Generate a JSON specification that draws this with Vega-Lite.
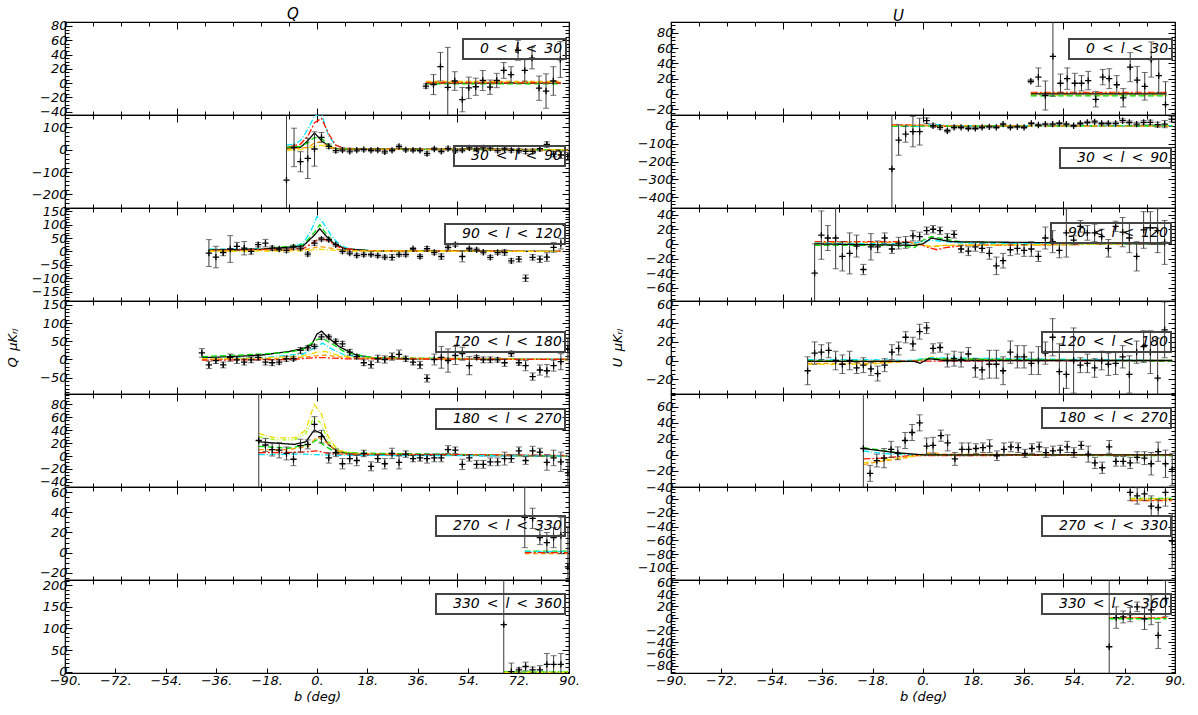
{
"$schema":"https://vega.github.io/schema/vega-lite/v6.json",
"padding":{"left":5,"top":6,"right":5,"bottom":3},
"background":"#ffffff",
"config":{
 "view":{"stroke":"#000","strokeWidth":1.2},
 "axis":{"domain":false,"grid":false,"tickColor":"#000","tickWidth":1,"labelColor":"#000","labelFont":"DejaVu Sans","labelFontStyle":"italic","labelFontSize":13,"titleFont":"DejaVu Sans","titleFontStyle":"italic","titleFontWeight":"normal","titleFontSize":13,"titleColor":"#000","labelFlush":false,"labelOverlap":false,"labelBound":false,"labelPadding":5},
 "legend":{"orient":"none","strokeColor":"#444","strokeWidth":2,"padding":3,"symbolSize":0,"symbolOpacity":0,"symbolStrokeWidth":0,"labelOffset":0,"labelFont":"DejaVu Sans","labelFontStyle":"italic","labelFontSize":14,"labelColor":"#000"},
 "title":{"font":"DejaVu Sans","fontStyle":"italic","fontWeight":"normal","fontSize":15,"color":"#000","anchor":"middle","offset":-6}
},
"datasets":{
"pts":[
{"c":"Q","r":1,"b":38.9,"v":-4,"e":3},{"c":"Q","r":1,"b":41.6,"v":-2,"e":14},{"c":"Q","r":1,"b":44.1,"v":23,"e":20},{"c":"Q","r":1,"b":46.7,"v":-6,"e":56},{"c":"Q","r":1,"b":49.2,"v":3,"e":13},{"c":"Q","r":1,"b":51.9,"v":-23,"e":17},{"c":"Q","r":1,"b":54.2,"v":-6.5,"e":15},{"c":"Q","r":1,"b":56.7,"v":-5,"e":12},{"c":"Q","r":1,"b":59.2,"v":3.7,"e":14},{"c":"Q","r":1,"b":61.8,"v":-5.6,"e":10},{"c":"Q","r":1,"b":64.2,"v":3.7,"e":10},{"c":"Q","r":1,"b":66.7,"v":17.8,"e":11},{"c":"Q","r":1,"b":69.3,"v":12,"e":11},{"c":"Q","r":1,"b":71.8,"v":46,"e":14},{"c":"Q","r":1,"b":74.2,"v":17.8,"e":15},{"c":"Q","r":1,"b":76.8,"v":35,"e":15},{"c":"Q","r":1,"b":79.3,"v":-7,"e":17},{"c":"Q","r":1,"b":81.8,"v":-11,"e":24},{"c":"Q","r":1,"b":84.4,"v":3,"e":20},{"c":"Q","r":1,"b":86.9,"v":33,"e":25},
{"c":"Q","r":2,"b":-10.9,"v":-136,"e":1000},{"c":"Q","r":2,"b":-8.2,"v":10,"e":86},{"c":"Q","r":2,"b":-5.9,"v":-54,"e":45},{"c":"Q","r":2,"b":-3.3,"v":-39,"e":90},{"c":"Q","r":2,"b":-0.9,"v":3,"e":77},{"c":"Q","r":2,"b":1.6,"v":55,"e":22},{"c":"Q","r":2,"b":4.2,"v":15,"e":10},{"c":"Q","r":2,"b":6.7,"v":-4,"e":8},{"c":"Q","r":2,"b":9.1,"v":-2,"e":6},{"c":"Q","r":2,"b":11.7,"v":-7,"e":7},{"c":"Q","r":2,"b":14.2,"v":-2,"e":6},{"c":"Q","r":2,"b":16.7,"v":0,"e":6},{"c":"Q","r":2,"b":19.3,"v":-3,"e":6},{"c":"Q","r":2,"b":21.7,"v":-2,"e":6},{"c":"Q","r":2,"b":24.2,"v":-10,"e":7},{"c":"Q","r":2,"b":26.8,"v":-3,"e":6},{"c":"Q","r":2,"b":29.3,"v":14,"e":7},{"c":"Q","r":2,"b":31.7,"v":-1,"e":6},{"c":"Q","r":2,"b":34.3,"v":-2,"e":6},{"c":"Q","r":2,"b":36.8,"v":-3,"e":6},{"c":"Q","r":2,"b":39.3,"v":-18,"e":8},{"c":"Q","r":2,"b":41.9,"v":3,"e":6},{"c":"Q","r":2,"b":44.4,"v":-8,"e":6},{"c":"Q","r":2,"b":46.8,"v":5,"e":7},{"c":"Q","r":2,"b":49.4,"v":-5,"e":7},{"c":"Q","r":2,"b":51.9,"v":-2,"e":7},{"c":"Q","r":2,"b":54.4,"v":8,"e":7},{"c":"Q","r":2,"b":57.0,"v":3,"e":8},{"c":"Q","r":2,"b":59.4,"v":8,"e":8},{"c":"Q","r":2,"b":61.9,"v":7,"e":8},{"c":"Q","r":2,"b":64.5,"v":-4,"e":7},{"c":"Q","r":2,"b":67.0,"v":3,"e":8},{"c":"Q","r":2,"b":69.4,"v":-3,"e":8},{"c":"Q","r":2,"b":72.1,"v":-5,"e":9},{"c":"Q","r":2,"b":74.5,"v":-8,"e":10},{"c":"Q","r":2,"b":77.0,"v":-8,"e":10},{"c":"Q","r":2,"b":79.6,"v":4,"e":10},{"c":"Q","r":2,"b":82.1,"v":23,"e":12},{"c":"Q","r":2,"b":84.5,"v":-20,"e":12},{"c":"Q","r":2,"b":87.1,"v":-24,"e":15},{"c":"Q","r":2,"b":89.6,"v":-30,"e":18},
{"c":"Q","r":3,"b":-38.6,"v":-6,"e":50},{"c":"Q","r":3,"b":-36.1,"v":-21,"e":40},{"c":"Q","r":3,"b":-33.5,"v":-4,"e":12},{"c":"Q","r":3,"b":-31.0,"v":9,"e":50},{"c":"Q","r":3,"b":-28.6,"v":19,"e":15},{"c":"Q","r":3,"b":-26.0,"v":12,"e":25},{"c":"Q","r":3,"b":-23.5,"v":0,"e":10},{"c":"Q","r":3,"b":-21.0,"v":25,"e":8},{"c":"Q","r":3,"b":-18.4,"v":31,"e":14},{"c":"Q","r":3,"b":-16.0,"v":12,"e":8},{"c":"Q","r":3,"b":-13.5,"v":9,"e":6},{"c":"Q","r":3,"b":-10.9,"v":4,"e":7},{"c":"Q","r":3,"b":-8.4,"v":16,"e":7},{"c":"Q","r":3,"b":-5.9,"v":12,"e":6},{"c":"Q","r":3,"b":-3.3,"v":-10,"e":7},{"c":"Q","r":3,"b":-0.9,"v":31,"e":8},{"c":"Q","r":3,"b":1.6,"v":46,"e":6},{"c":"Q","r":3,"b":4.2,"v":44,"e":6},{"c":"Q","r":3,"b":6.7,"v":25,"e":6},{"c":"Q","r":3,"b":9.1,"v":0,"e":6},{"c":"Q","r":3,"b":11.7,"v":-6,"e":6},{"c":"Q","r":3,"b":14.2,"v":-15,"e":6},{"c":"Q","r":3,"b":16.7,"v":-12,"e":6},{"c":"Q","r":3,"b":19.3,"v":-12,"e":5},{"c":"Q","r":3,"b":21.7,"v":-16,"e":6},{"c":"Q","r":3,"b":24.2,"v":-21,"e":7},{"c":"Q","r":3,"b":26.8,"v":-22,"e":10},{"c":"Q","r":3,"b":29.3,"v":-12,"e":6},{"c":"Q","r":3,"b":31.7,"v":-12,"e":6},{"c":"Q","r":3,"b":34.3,"v":10,"e":4},{"c":"Q","r":3,"b":36.8,"v":-19,"e":7},{"c":"Q","r":3,"b":39.3,"v":10,"e":8},{"c":"Q","r":3,"b":41.9,"v":-4,"e":8},{"c":"Q","r":3,"b":44.4,"v":-19,"e":10},{"c":"Q","r":3,"b":46.8,"v":15,"e":6},{"c":"Q","r":3,"b":49.4,"v":25,"e":6},{"c":"Q","r":3,"b":51.9,"v":-19,"e":20},{"c":"Q","r":3,"b":54.4,"v":10,"e":5},{"c":"Q","r":3,"b":57.0,"v":6,"e":6},{"c":"Q","r":3,"b":59.4,"v":-3,"e":6},{"c":"Q","r":3,"b":61.9,"v":-22,"e":7},{"c":"Q","r":3,"b":64.5,"v":-4,"e":7},{"c":"Q","r":3,"b":67.0,"v":-4,"e":10},{"c":"Q","r":3,"b":69.4,"v":-35,"e":8},{"c":"Q","r":3,"b":72.1,"v":-29,"e":10},{"c":"Q","r":3,"b":74.5,"v":-100,"e":12},{"c":"Q","r":3,"b":77.0,"v":-22,"e":10},{"c":"Q","r":3,"b":79.6,"v":-29,"e":12},{"c":"Q","r":3,"b":82.1,"v":-21,"e":16},{"c":"Q","r":3,"b":84.5,"v":15,"e":18},{"c":"Q","r":3,"b":87.1,"v":29,"e":20},
{"c":"Q","r":4,"b":-41.1,"v":18,"e":12},{"c":"Q","r":4,"b":-38.6,"v":-15,"e":10},{"c":"Q","r":4,"b":-36.1,"v":-3,"e":8},{"c":"Q","r":4,"b":-33.5,"v":-15,"e":8},{"c":"Q","r":4,"b":-31.0,"v":5,"e":10},{"c":"Q","r":4,"b":-28.6,"v":-1,"e":10},{"c":"Q","r":4,"b":-26.0,"v":-7,"e":8},{"c":"Q","r":4,"b":-23.5,"v":-1,"e":8},{"c":"Q","r":4,"b":-21.0,"v":6,"e":8},{"c":"Q","r":4,"b":-18.4,"v":-7,"e":8},{"c":"Q","r":4,"b":-16.0,"v":-9,"e":8},{"c":"Q","r":4,"b":-13.5,"v":-7,"e":6},{"c":"Q","r":4,"b":-10.9,"v":2,"e":7},{"c":"Q","r":4,"b":-8.4,"v":2,"e":5},{"c":"Q","r":4,"b":-5.9,"v":25,"e":8},{"c":"Q","r":4,"b":-3.3,"v":32,"e":6},{"c":"Q","r":4,"b":-0.9,"v":36,"e":5},{"c":"Q","r":4,"b":1.6,"v":62,"e":6},{"c":"Q","r":4,"b":4.2,"v":62,"e":5},{"c":"Q","r":4,"b":6.7,"v":50,"e":6},{"c":"Q","r":4,"b":9.1,"v":43,"e":7},{"c":"Q","r":4,"b":11.7,"v":20,"e":8},{"c":"Q","r":4,"b":14.2,"v":8,"e":6},{"c":"Q","r":4,"b":16.7,"v":-9,"e":8},{"c":"Q","r":4,"b":19.3,"v":-14,"e":10},{"c":"Q","r":4,"b":21.7,"v":2,"e":10},{"c":"Q","r":4,"b":24.2,"v":0,"e":10},{"c":"Q","r":4,"b":26.8,"v":8,"e":10},{"c":"Q","r":4,"b":29.3,"v":14,"e":12},{"c":"Q","r":4,"b":31.7,"v":2,"e":7},{"c":"Q","r":4,"b":34.3,"v":-7,"e":8},{"c":"Q","r":4,"b":36.8,"v":-15,"e":10},{"c":"Q","r":4,"b":39.3,"v":-52,"e":10},{"c":"Q","r":4,"b":41.9,"v":0,"e":15},{"c":"Q","r":4,"b":44.4,"v":6,"e":30},{"c":"Q","r":4,"b":46.8,"v":-3,"e":32},{"c":"Q","r":4,"b":49.4,"v":11,"e":25},{"c":"Q","r":4,"b":51.9,"v":16,"e":18},{"c":"Q","r":4,"b":54.4,"v":-17,"e":25},{"c":"Q","r":4,"b":57.0,"v":6,"e":5},{"c":"Q","r":4,"b":59.4,"v":-1,"e":8},{"c":"Q","r":4,"b":61.9,"v":-1,"e":8},{"c":"Q","r":4,"b":64.5,"v":-1,"e":6},{"c":"Q","r":4,"b":67.0,"v":-9,"e":10},{"c":"Q","r":4,"b":69.4,"v":16,"e":7},{"c":"Q","r":4,"b":72.1,"v":-9,"e":7},{"c":"Q","r":4,"b":74.5,"v":-17,"e":14},{"c":"Q","r":4,"b":77.0,"v":-47,"e":10},{"c":"Q","r":4,"b":79.6,"v":-29,"e":14},{"c":"Q","r":4,"b":82.1,"v":-31,"e":17},{"c":"Q","r":4,"b":84.5,"v":-17,"e":15},{"c":"Q","r":4,"b":87.1,"v":-6,"e":22},{"c":"Q","r":4,"b":89.6,"v":30,"e":30},
{"c":"Q","r":5,"b":-20.8,"v":24,"e":1000},{"c":"Q","r":5,"b":-18.4,"v":17,"e":10},{"c":"Q","r":5,"b":-16.0,"v":10,"e":10},{"c":"Q","r":5,"b":-13.5,"v":9,"e":12},{"c":"Q","r":5,"b":-10.9,"v":4,"e":10},{"c":"Q","r":5,"b":-8.4,"v":-5,"e":10},{"c":"Q","r":5,"b":-5.9,"v":16,"e":10},{"c":"Q","r":5,"b":-3.3,"v":18,"e":7},{"c":"Q","r":5,"b":-0.9,"v":49,"e":12},{"c":"Q","r":5,"b":1.6,"v":30,"e":10},{"c":"Q","r":5,"b":4.2,"v":-3,"e":8},{"c":"Q","r":5,"b":6.7,"v":5,"e":6},{"c":"Q","r":5,"b":9.1,"v":-12,"e":8},{"c":"Q","r":5,"b":11.7,"v":-4,"e":8},{"c":"Q","r":5,"b":14.2,"v":-7,"e":8},{"c":"Q","r":5,"b":16.7,"v":4,"e":5},{"c":"Q","r":5,"b":19.3,"v":-16,"e":7},{"c":"Q","r":5,"b":21.7,"v":-4,"e":6},{"c":"Q","r":5,"b":24.2,"v":-12,"e":8},{"c":"Q","r":5,"b":26.8,"v":4,"e":8},{"c":"Q","r":5,"b":29.3,"v":-10,"e":10},{"c":"Q","r":5,"b":31.7,"v":3,"e":5},{"c":"Q","r":5,"b":34.3,"v":-4,"e":5},{"c":"Q","r":5,"b":36.8,"v":-3,"e":5},{"c":"Q","r":5,"b":39.3,"v":-4,"e":7},{"c":"Q","r":5,"b":41.9,"v":-3,"e":6},{"c":"Q","r":5,"b":44.4,"v":-3,"e":6},{"c":"Q","r":5,"b":46.8,"v":10,"e":6},{"c":"Q","r":5,"b":49.4,"v":9,"e":5},{"c":"Q","r":5,"b":51.9,"v":-13,"e":8},{"c":"Q","r":5,"b":54.4,"v":-3,"e":5},{"c":"Q","r":5,"b":57.0,"v":-13,"e":6},{"c":"Q","r":5,"b":59.4,"v":-13,"e":6},{"c":"Q","r":5,"b":61.9,"v":-9,"e":6},{"c":"Q","r":5,"b":64.5,"v":-9,"e":6},{"c":"Q","r":5,"b":67.0,"v":-4,"e":10},{"c":"Q","r":5,"b":69.4,"v":-4,"e":6},{"c":"Q","r":5,"b":72.1,"v":8,"e":6},{"c":"Q","r":5,"b":74.5,"v":-7,"e":6},{"c":"Q","r":5,"b":77.0,"v":8,"e":7},{"c":"Q","r":5,"b":79.6,"v":6,"e":6},{"c":"Q","r":5,"b":82.1,"v":-10,"e":12},{"c":"Q","r":5,"b":84.5,"v":-3,"e":12},{"c":"Q","r":5,"b":87.1,"v":-9,"e":15},{"c":"Q","r":5,"b":89.6,"v":-26,"e":20},
{"c":"Q","r":6,"b":74.2,"v":35,"e":30},{"c":"Q","r":6,"b":77.0,"v":34,"e":10},{"c":"Q","r":6,"b":79.6,"v":15,"e":7},{"c":"Q","r":6,"b":82.1,"v":10,"e":10},{"c":"Q","r":6,"b":84.5,"v":15,"e":10},{"c":"Q","r":6,"b":87.1,"v":17,"e":18},{"c":"Q","r":6,"b":89.6,"v":-14,"e":40},
{"c":"Q","r":7,"b":66.7,"v":109,"e":1000},{"c":"Q","r":7,"b":69.4,"v":0,"e":20},{"c":"Q","r":7,"b":72.1,"v":4,"e":5},{"c":"Q","r":7,"b":74.5,"v":12,"e":10},{"c":"Q","r":7,"b":77.0,"v":4,"e":7},{"c":"Q","r":7,"b":79.6,"v":4,"e":10},{"c":"Q","r":7,"b":82.1,"v":17,"e":25},{"c":"Q","r":7,"b":84.5,"v":17,"e":20},{"c":"Q","r":7,"b":87.1,"v":17,"e":25},
{"c":"U","r":1,"b":38.5,"v":16.6,"e":2},{"c":"U","r":1,"b":41.2,"v":22,"e":12},{"c":"U","r":1,"b":43.7,"v":-2,"e":19},{"c":"U","r":1,"b":46.4,"v":49,"e":52},{"c":"U","r":1,"b":49.1,"v":14,"e":12},{"c":"U","r":1,"b":51.5,"v":20,"e":14},{"c":"U","r":1,"b":54.2,"v":14,"e":13},{"c":"U","r":1,"b":56.6,"v":14,"e":10},{"c":"U","r":1,"b":59.0,"v":17.5,"e":12},{"c":"U","r":1,"b":61.7,"v":-7,"e":10},{"c":"U","r":1,"b":64.2,"v":22,"e":10},{"c":"U","r":1,"b":66.5,"v":20,"e":13},{"c":"U","r":1,"b":69.2,"v":12,"e":12},{"c":"U","r":1,"b":71.5,"v":-5,"e":12},{"c":"U","r":1,"b":74.0,"v":35,"e":19},{"c":"U","r":1,"b":76.5,"v":18,"e":18},{"c":"U","r":1,"b":79.2,"v":10,"e":18},{"c":"U","r":1,"b":81.5,"v":45,"e":23},{"c":"U","r":1,"b":84.2,"v":24,"e":22},{"c":"U","r":1,"b":86.6,"v":-14,"e":30},
{"c":"U","r":2,"b":-11.1,"v":-242,"e":1000},{"c":"U","r":2,"b":-8.7,"v":-80,"e":85},{"c":"U","r":2,"b":-6.2,"v":-47,"e":45},{"c":"U","r":2,"b":-3.6,"v":-33,"e":85},{"c":"U","r":2,"b":-1.2,"v":-33,"e":75},{"c":"U","r":2,"b":1.3,"v":28,"e":15},{"c":"U","r":2,"b":3.6,"v":0,"e":10},{"c":"U","r":2,"b":6.1,"v":-9,"e":10},{"c":"U","r":2,"b":8.7,"v":-28,"e":8},{"c":"U","r":2,"b":11.1,"v":-9,"e":8},{"c":"U","r":2,"b":13.6,"v":-9,"e":6},{"c":"U","r":2,"b":16.2,"v":-15,"e":6},{"c":"U","r":2,"b":18.7,"v":-15,"e":6},{"c":"U","r":2,"b":21.1,"v":-9,"e":6},{"c":"U","r":2,"b":23.7,"v":-6,"e":6},{"c":"U","r":2,"b":26.2,"v":-9,"e":6},{"c":"U","r":2,"b":28.6,"v":9,"e":5},{"c":"U","r":2,"b":31.2,"v":-9,"e":6},{"c":"U","r":2,"b":33.7,"v":-6,"e":5},{"c":"U","r":2,"b":36.1,"v":-9,"e":6},{"c":"U","r":2,"b":38.7,"v":13,"e":5},{"c":"U","r":2,"b":41.2,"v":4,"e":5},{"c":"U","r":2,"b":43.7,"v":9,"e":5},{"c":"U","r":2,"b":46.3,"v":9,"e":5},{"c":"U","r":2,"b":48.7,"v":13,"e":5},{"c":"U","r":2,"b":51.2,"v":9,"e":5},{"c":"U","r":2,"b":53.8,"v":0,"e":6},{"c":"U","r":2,"b":56.2,"v":13,"e":6},{"c":"U","r":2,"b":58.7,"v":19,"e":6},{"c":"U","r":2,"b":61.3,"v":22,"e":7},{"c":"U","r":2,"b":63.8,"v":13,"e":6},{"c":"U","r":2,"b":66.2,"v":13,"e":7},{"c":"U","r":2,"b":68.8,"v":13,"e":8},{"c":"U","r":2,"b":71.3,"v":28,"e":10},{"c":"U","r":2,"b":73.7,"v":19,"e":8},{"c":"U","r":2,"b":76.3,"v":9,"e":10},{"c":"U","r":2,"b":78.8,"v":19,"e":10},{"c":"U","r":2,"b":81.2,"v":19,"e":12},{"c":"U","r":2,"b":83.8,"v":6,"e":14},{"c":"U","r":2,"b":86.3,"v":9,"e":20},{"c":"U","r":2,"b":88.8,"v":37,"e":15},
{"c":"U","r":3,"b":-38.7,"v":-40,"e":40},{"c":"U","r":3,"b":-36.3,"v":12,"e":33},{"c":"U","r":3,"b":-34.0,"v":8,"e":17},{"c":"U","r":3,"b":-31.2,"v":8,"e":42},{"c":"U","r":3,"b":-28.8,"v":-17,"e":20},{"c":"U","r":3,"b":-26.2,"v":-13,"e":28},{"c":"U","r":3,"b":-23.7,"v":-3,"e":15},{"c":"U","r":3,"b":-21.3,"v":-35,"e":7},{"c":"U","r":3,"b":-18.6,"v":-4,"e":18},{"c":"U","r":3,"b":-16.2,"v":-4,"e":8},{"c":"U","r":3,"b":-13.7,"v":8,"e":7},{"c":"U","r":3,"b":-11.1,"v":-7,"e":6},{"c":"U","r":3,"b":-8.7,"v":1,"e":8},{"c":"U","r":3,"b":-6.2,"v":2,"e":8},{"c":"U","r":3,"b":-3.6,"v":11,"e":7},{"c":"U","r":3,"b":-1.2,"v":10,"e":6},{"c":"U","r":3,"b":1.3,"v":18,"e":5},{"c":"U","r":3,"b":3.6,"v":20,"e":5},{"c":"U","r":3,"b":6.1,"v":18,"e":5},{"c":"U","r":3,"b":8.7,"v":9,"e":5},{"c":"U","r":3,"b":11.1,"v":13,"e":5},{"c":"U","r":3,"b":13.6,"v":-7,"e":5},{"c":"U","r":3,"b":16.2,"v":-10,"e":6},{"c":"U","r":3,"b":18.7,"v":-4,"e":6},{"c":"U","r":3,"b":21.1,"v":-6,"e":6},{"c":"U","r":3,"b":23.7,"v":-13,"e":8},{"c":"U","r":3,"b":26.2,"v":-30,"e":12},{"c":"U","r":3,"b":28.6,"v":-23,"e":10},{"c":"U","r":3,"b":31.2,"v":-8,"e":8},{"c":"U","r":3,"b":33.7,"v":-6,"e":8},{"c":"U","r":3,"b":36.1,"v":-9,"e":8},{"c":"U","r":3,"b":38.7,"v":-7,"e":10},{"c":"U","r":3,"b":41.2,"v":-17,"e":7},{"c":"U","r":3,"b":43.7,"v":8,"e":15},{"c":"U","r":3,"b":46.3,"v":3,"e":15},{"c":"U","r":3,"b":48.7,"v":-9,"e":10},{"c":"U","r":3,"b":51.2,"v":15,"e":33},{"c":"U","r":3,"b":53.8,"v":5,"e":6},{"c":"U","r":3,"b":56.2,"v":24,"e":8},{"c":"U","r":3,"b":58.7,"v":15,"e":10},{"c":"U","r":3,"b":61.3,"v":15,"e":12},{"c":"U","r":3,"b":63.8,"v":10,"e":10},{"c":"U","r":3,"b":66.2,"v":-6,"e":12},{"c":"U","r":3,"b":68.8,"v":24,"e":7},{"c":"U","r":3,"b":71.3,"v":16,"e":20},{"c":"U","r":3,"b":73.7,"v":8,"e":20},{"c":"U","r":3,"b":76.3,"v":-17,"e":20},{"c":"U","r":3,"b":78.8,"v":19,"e":25},{"c":"U","r":3,"b":81.2,"v":22,"e":22},{"c":"U","r":3,"b":83.8,"v":18,"e":30},{"c":"U","r":3,"b":86.3,"v":2,"e":30},
{"c":"U","r":4,"b":-41.2,"v":-11,"e":15},{"c":"U","r":4,"b":-38.7,"v":8,"e":12},{"c":"U","r":4,"b":-36.3,"v":9,"e":8},{"c":"U","r":4,"b":-33.7,"v":11,"e":8},{"c":"U","r":4,"b":-31.2,"v":0,"e":10},{"c":"U","r":4,"b":-28.8,"v":-4,"e":10},{"c":"U","r":4,"b":-26.2,"v":0,"e":10},{"c":"U","r":4,"b":-23.7,"v":-8,"e":6},{"c":"U","r":4,"b":-21.3,"v":-5,"e":8},{"c":"U","r":4,"b":-18.6,"v":-9,"e":7},{"c":"U","r":4,"b":-16.2,"v":-14,"e":8},{"c":"U","r":4,"b":-13.7,"v":-5,"e":7},{"c":"U","r":4,"b":-11.1,"v":9,"e":8},{"c":"U","r":4,"b":-8.7,"v":13,"e":7},{"c":"U","r":4,"b":-6.2,"v":25,"e":6},{"c":"U","r":4,"b":-3.6,"v":18,"e":7},{"c":"U","r":4,"b":-1.2,"v":31,"e":8},{"c":"U","r":4,"b":1.3,"v":35,"e":6},{"c":"U","r":4,"b":3.6,"v":13,"e":5},{"c":"U","r":4,"b":6.1,"v":14,"e":5},{"c":"U","r":4,"b":8.7,"v":0,"e":7},{"c":"U","r":4,"b":11.1,"v":2,"e":8},{"c":"U","r":4,"b":13.6,"v":1,"e":8},{"c":"U","r":4,"b":16.2,"v":7,"e":7},{"c":"U","r":4,"b":18.7,"v":-8,"e":10},{"c":"U","r":4,"b":21.1,"v":-10,"e":10},{"c":"U","r":4,"b":23.7,"v":-4,"e":15},{"c":"U","r":4,"b":26.2,"v":-4,"e":15},{"c":"U","r":4,"b":28.6,"v":-11,"e":15},{"c":"U","r":4,"b":31.2,"v":9,"e":12},{"c":"U","r":4,"b":33.7,"v":4,"e":12},{"c":"U","r":4,"b":36.1,"v":4,"e":12},{"c":"U","r":4,"b":38.7,"v":-3,"e":12},{"c":"U","r":4,"b":41.2,"v":0,"e":15},{"c":"U","r":4,"b":43.7,"v":8,"e":12},{"c":"U","r":4,"b":46.3,"v":25,"e":20},{"c":"U","r":4,"b":48.7,"v":-12,"e":30},{"c":"U","r":4,"b":51.2,"v":-15,"e":15},{"c":"U","r":4,"b":53.8,"v":0,"e":35},{"c":"U","r":4,"b":56.2,"v":-5,"e":8},{"c":"U","r":4,"b":58.7,"v":-3,"e":10},{"c":"U","r":4,"b":61.3,"v":-8,"e":10},{"c":"U","r":4,"b":63.8,"v":0,"e":10},{"c":"U","r":4,"b":66.2,"v":-4,"e":12},{"c":"U","r":4,"b":68.8,"v":-3,"e":12},{"c":"U","r":4,"b":71.3,"v":4,"e":12},{"c":"U","r":4,"b":73.7,"v":-15,"e":20},{"c":"U","r":4,"b":76.3,"v":9,"e":12},{"c":"U","r":4,"b":78.8,"v":15,"e":17},{"c":"U","r":4,"b":81.2,"v":9,"e":23},{"c":"U","r":4,"b":83.8,"v":-19,"e":43},{"c":"U","r":4,"b":86.3,"v":33,"e":30},
{"c":"U","r":5,"b":-21.3,"v":8,"e":1000},{"c":"U","r":5,"b":-18.9,"v":-23,"e":10},{"c":"U","r":5,"b":-16.5,"v":-7,"e":8},{"c":"U","r":5,"b":-13.9,"v":-4,"e":12},{"c":"U","r":5,"b":-11.4,"v":7,"e":10},{"c":"U","r":5,"b":-9.0,"v":2,"e":8},{"c":"U","r":5,"b":-6.4,"v":18,"e":10},{"c":"U","r":5,"b":-3.9,"v":28,"e":10},{"c":"U","r":5,"b":-1.2,"v":40,"e":10},{"c":"U","r":5,"b":1.3,"v":11,"e":10},{"c":"U","r":5,"b":3.6,"v":12,"e":10},{"c":"U","r":5,"b":6.4,"v":24,"e":7},{"c":"U","r":5,"b":8.8,"v":15,"e":10},{"c":"U","r":5,"b":11.4,"v":-5,"e":8},{"c":"U","r":5,"b":13.9,"v":7,"e":8},{"c":"U","r":5,"b":16.3,"v":7,"e":8},{"c":"U","r":5,"b":18.9,"v":8,"e":6},{"c":"U","r":5,"b":21.4,"v":9,"e":6},{"c":"U","r":5,"b":23.8,"v":11,"e":8},{"c":"U","r":5,"b":26.4,"v":-1,"e":6},{"c":"U","r":5,"b":28.9,"v":7,"e":8},{"c":"U","r":5,"b":31.4,"v":10,"e":6},{"c":"U","r":5,"b":34.0,"v":9,"e":6},{"c":"U","r":5,"b":36.4,"v":2,"e":5},{"c":"U","r":5,"b":38.9,"v":8,"e":6},{"c":"U","r":5,"b":41.5,"v":10,"e":6},{"c":"U","r":5,"b":43.9,"v":3,"e":6},{"c":"U","r":5,"b":46.4,"v":5,"e":6},{"c":"U","r":5,"b":49.0,"v":6,"e":6},{"c":"U","r":5,"b":51.5,"v":10,"e":7},{"c":"U","r":5,"b":53.9,"v":3,"e":6},{"c":"U","r":5,"b":56.5,"v":12,"e":5},{"c":"U","r":5,"b":59.0,"v":1,"e":10},{"c":"U","r":5,"b":61.4,"v":-10,"e":7},{"c":"U","r":5,"b":64.0,"v":-16,"e":7},{"c":"U","r":5,"b":66.5,"v":10,"e":8},{"c":"U","r":5,"b":68.9,"v":-8,"e":6},{"c":"U","r":5,"b":71.5,"v":-8,"e":6},{"c":"U","r":5,"b":74.0,"v":-10,"e":7},{"c":"U","r":5,"b":76.5,"v":-3,"e":7},{"c":"U","r":5,"b":79.1,"v":-4,"e":8},{"c":"U","r":5,"b":81.5,"v":-11,"e":14},{"c":"U","r":5,"b":84.0,"v":4,"e":12},{"c":"U","r":5,"b":86.6,"v":-11,"e":17},{"c":"U","r":5,"b":89.0,"v":-18,"e":20},
{"c":"U","r":6,"b":74.0,"v":10,"e":12},{"c":"U","r":6,"b":76.5,"v":5,"e":12},{"c":"U","r":6,"b":79.1,"v":8,"e":10},{"c":"U","r":6,"b":81.5,"v":-10,"e":15},{"c":"U","r":6,"b":84.0,"v":-12,"e":12},{"c":"U","r":6,"b":86.6,"v":10,"e":20},{"c":"U","r":6,"b":89.0,"v":-61,"e":40},
{"c":"U","r":7,"b":66.5,"v":-48,"e":1000},{"c":"U","r":7,"b":69.0,"v":1,"e":18},{"c":"U","r":7,"b":71.5,"v":2,"e":10},{"c":"U","r":7,"b":74.0,"v":6,"e":12},{"c":"U","r":7,"b":76.5,"v":19,"e":8},{"c":"U","r":7,"b":79.1,"v":-1,"e":18},{"c":"U","r":7,"b":81.5,"v":14,"e":25},{"c":"U","r":7,"b":84.0,"v":-29,"e":22},{"c":"U","r":7,"b":86.6,"v":33,"e":30}
],
"mod":[
{"c":"Q","r":1,"m":"k","b":38.9,"v":0},{"c":"Q","r":1,"m":"k","b":87.1,"v":0},{"c":"Q","r":1,"m":"o","b":38.9,"v":2.5},{"c":"Q","r":1,"m":"o","b":87.1,"v":2.5},{"c":"Q","r":1,"m":"y","b":38.9,"v":1.5},{"c":"Q","r":1,"m":"y","b":87.1,"v":1.5},{"c":"Q","r":1,"m":"g","b":38.9,"v":-1},{"c":"Q","r":1,"m":"g","b":87.1,"v":-1},{"c":"Q","r":1,"m":"r","b":38.9,"v":0.5},{"c":"Q","r":1,"m":"r","b":87.1,"v":0.5},
{"c":"Q","r":2,"m":"c","b":-10.9,"v":20},{"c":"Q","r":2,"m":"c","b":-8.2,"v":25},{"c":"Q","r":2,"m":"c","b":-5.9,"v":40},{"c":"Q","r":2,"m":"c","b":-3.3,"v":90},{"c":"Q","r":2,"m":"c","b":-0.9,"v":150},{"c":"Q","r":2,"m":"c","b":1.6,"v":160},{"c":"Q","r":2,"m":"c","b":4.2,"v":60},{"c":"Q","r":2,"m":"c","b":6.7,"v":20},{"c":"Q","r":2,"m":"c","b":9.1,"v":8},{"c":"Q","r":2,"m":"c","b":14,"v":3},{"c":"Q","r":2,"m":"c","b":20,"v":1},{"c":"Q","r":2,"m":"c","b":89.6,"v":0},
{"c":"Q","r":2,"m":"r","b":-10.9,"v":10},{"c":"Q","r":2,"m":"r","b":-5.9,"v":25},{"c":"Q","r":2,"m":"r","b":-3.3,"v":60},{"c":"Q","r":2,"m":"r","b":-0.9,"v":120},{"c":"Q","r":2,"m":"r","b":1.6,"v":140},{"c":"Q","r":2,"m":"r","b":4.2,"v":70},{"c":"Q","r":2,"m":"r","b":6.7,"v":20},{"c":"Q","r":2,"m":"r","b":9.1,"v":8},{"c":"Q","r":2,"m":"r","b":14,"v":4},{"c":"Q","r":2,"m":"r","b":89.6,"v":0},
{"c":"Q","r":2,"m":"k","b":-10.9,"v":5},{"c":"Q","r":2,"m":"k","b":-8.2,"v":8},{"c":"Q","r":2,"m":"k","b":-5.9,"v":10},{"c":"Q","r":2,"m":"k","b":-3.3,"v":40},{"c":"Q","r":2,"m":"k","b":-0.9,"v":75},{"c":"Q","r":2,"m":"k","b":1.6,"v":40},{"c":"Q","r":2,"m":"k","b":4.2,"v":15},{"c":"Q","r":2,"m":"k","b":6.7,"v":5},{"c":"Q","r":2,"m":"k","b":12,"v":2},{"c":"Q","r":2,"m":"k","b":89.6,"v":0},
{"c":"Q","r":2,"m":"g","b":-10.9,"v":10},{"c":"Q","r":2,"m":"g","b":-5.9,"v":15},{"c":"Q","r":2,"m":"g","b":-3.3,"v":30},{"c":"Q","r":2,"m":"g","b":-0.9,"v":55},{"c":"Q","r":2,"m":"g","b":1.6,"v":50},{"c":"Q","r":2,"m":"g","b":4.2,"v":20},{"c":"Q","r":2,"m":"g","b":6.7,"v":6},{"c":"Q","r":2,"m":"g","b":12,"v":2},{"c":"Q","r":2,"m":"g","b":89.6,"v":0},
{"c":"Q","r":2,"m":"y","b":-10.9,"v":-3},{"c":"Q","r":2,"m":"y","b":-5.9,"v":0},{"c":"Q","r":2,"m":"y","b":-0.9,"v":15},{"c":"Q","r":2,"m":"y","b":1.6,"v":20},{"c":"Q","r":2,"m":"y","b":4.2,"v":8},{"c":"Q","r":2,"m":"y","b":9,"v":2},{"c":"Q","r":2,"m":"y","b":89.6,"v":0},
{"c":"Q","r":2,"m":"o","b":-10.9,"v":2},{"c":"Q","r":2,"m":"o","b":-3.3,"v":10},{"c":"Q","r":2,"m":"o","b":-0.9,"v":30},{"c":"Q","r":2,"m":"o","b":1.6,"v":35},{"c":"Q","r":2,"m":"o","b":4.2,"v":12},{"c":"Q","r":2,"m":"o","b":9,"v":2},{"c":"Q","r":2,"m":"o","b":89.6,"v":-2},
{"c":"Q","r":3,"m":"c","b":-38.6,"v":8},{"c":"Q","r":3,"m":"c","b":-20,"v":10},{"c":"Q","r":3,"m":"c","b":-10,"v":12},{"c":"Q","r":3,"m":"c","b":-5,"v":30},{"c":"Q","r":3,"m":"c","b":-2,"v":80},{"c":"Q","r":3,"m":"c","b":0,"v":130},{"c":"Q","r":3,"m":"c","b":2,"v":110},{"c":"Q","r":3,"m":"c","b":5,"v":60},{"c":"Q","r":3,"m":"c","b":8,"v":25},{"c":"Q","r":3,"m":"c","b":12,"v":8},{"c":"Q","r":3,"m":"c","b":20,"v":2},{"c":"Q","r":3,"m":"c","b":87.1,"v":0},
{"c":"Q","r":3,"m":"g","b":-38.6,"v":5},{"c":"Q","r":3,"m":"g","b":-20,"v":8},{"c":"Q","r":3,"m":"g","b":-5,"v":25},{"c":"Q","r":3,"m":"g","b":-1,"v":70},{"c":"Q","r":3,"m":"g","b":1,"v":100},{"c":"Q","r":3,"m":"g","b":3,"v":70},{"c":"Q","r":3,"m":"g","b":6,"v":30},{"c":"Q","r":3,"m":"g","b":10,"v":10},{"c":"Q","r":3,"m":"g","b":20,"v":2},{"c":"Q","r":3,"m":"g","b":87.1,"v":0},
{"c":"Q","r":3,"m":"k","b":-38.6,"v":5},{"c":"Q","r":3,"m":"k","b":-20,"v":8},{"c":"Q","r":3,"m":"k","b":-5,"v":20},{"c":"Q","r":3,"m":"k","b":-1,"v":60},{"c":"Q","r":3,"m":"k","b":1,"v":85},{"c":"Q","r":3,"m":"k","b":3,"v":60},{"c":"Q","r":3,"m":"k","b":6,"v":30},{"c":"Q","r":3,"m":"k","b":10,"v":10},{"c":"Q","r":3,"m":"k","b":20,"v":2},{"c":"Q","r":3,"m":"k","b":87.1,"v":0},
{"c":"Q","r":3,"m":"r","b":-38.6,"v":3},{"c":"Q","r":3,"m":"r","b":-5,"v":10},{"c":"Q","r":3,"m":"r","b":-1,"v":35},{"c":"Q","r":3,"m":"r","b":1,"v":50},{"c":"Q","r":3,"m":"r","b":4,"v":40},{"c":"Q","r":3,"m":"r","b":8,"v":15},{"c":"Q","r":3,"m":"r","b":15,"v":3},{"c":"Q","r":3,"m":"r","b":87.1,"v":0},
{"c":"Q","r":3,"m":"o","b":-38.6,"v":2},{"c":"Q","r":3,"m":"o","b":-5,"v":5},{"c":"Q","r":3,"m":"o","b":1,"v":18},{"c":"Q","r":3,"m":"o","b":5,"v":12},{"c":"Q","r":3,"m":"o","b":10,"v":3},{"c":"Q","r":3,"m":"o","b":87.1,"v":0},
{"c":"Q","r":3,"m":"y","b":-38.6,"v":0},{"c":"Q","r":3,"m":"y","b":-5,"v":2},{"c":"Q","r":3,"m":"y","b":1,"v":8},{"c":"Q","r":3,"m":"y","b":5,"v":5},{"c":"Q","r":3,"m":"y","b":12,"v":1},{"c":"Q","r":3,"m":"y","b":87.1,"v":0},
{"c":"Q","r":4,"m":"k","b":-41.1,"v":5},{"c":"Q","r":4,"m":"k","b":-30,"v":8},{"c":"Q","r":4,"m":"k","b":-20,"v":12},{"c":"Q","r":4,"m":"k","b":-10,"v":22},{"c":"Q","r":4,"m":"k","b":-5,"v":30},{"c":"Q","r":4,"m":"k","b":-2,"v":40},{"c":"Q","r":4,"m":"k","b":0,"v":70},{"c":"Q","r":4,"m":"k","b":1.6,"v":78},{"c":"Q","r":4,"m":"k","b":4,"v":60},{"c":"Q","r":4,"m":"k","b":8,"v":35},{"c":"Q","r":4,"m":"k","b":14,"v":12},{"c":"Q","r":4,"m":"k","b":20,"v":5},{"c":"Q","r":4,"m":"k","b":30,"v":2},{"c":"Q","r":4,"m":"k","b":89.6,"v":0},
{"c":"Q","r":4,"m":"g","b":-41.1,"v":8},{"c":"Q","r":4,"m":"g","b":-20,"v":15},{"c":"Q","r":4,"m":"g","b":-10,"v":20},{"c":"Q","r":4,"m":"g","b":-5,"v":28},{"c":"Q","r":4,"m":"g","b":0,"v":55},{"c":"Q","r":4,"m":"g","b":2,"v":58},{"c":"Q","r":4,"m":"g","b":5,"v":45},{"c":"Q","r":4,"m":"g","b":10,"v":20},{"c":"Q","r":4,"m":"g","b":20,"v":5},{"c":"Q","r":4,"m":"g","b":89.6,"v":0},
{"c":"Q","r":4,"m":"c","b":-41.1,"v":3},{"c":"Q","r":4,"m":"c","b":-20,"v":5},{"c":"Q","r":4,"m":"c","b":-5,"v":15},{"c":"Q","r":4,"m":"c","b":0,"v":35},{"c":"Q","r":4,"m":"c","b":2,"v":45},{"c":"Q","r":4,"m":"c","b":5,"v":30},{"c":"Q","r":4,"m":"c","b":10,"v":12},{"c":"Q","r":4,"m":"c","b":20,"v":3},{"c":"Q","r":4,"m":"c","b":89.6,"v":0},
{"c":"Q","r":4,"m":"y","b":-41.1,"v":2},{"c":"Q","r":4,"m":"y","b":-20,"v":4},{"c":"Q","r":4,"m":"y","b":-5,"v":10},{"c":"Q","r":4,"m":"y","b":0,"v":20},{"c":"Q","r":4,"m":"y","b":3,"v":22},{"c":"Q","r":4,"m":"y","b":8,"v":10},{"c":"Q","r":4,"m":"y","b":20,"v":2},{"c":"Q","r":4,"m":"y","b":89.6,"v":0},
{"c":"Q","r":4,"m":"o","b":-41.1,"v":0},{"c":"Q","r":4,"m":"o","b":-10,"v":3},{"c":"Q","r":4,"m":"o","b":0,"v":10},{"c":"Q","r":4,"m":"o","b":3,"v":12},{"c":"Q","r":4,"m":"o","b":10,"v":5},{"c":"Q","r":4,"m":"o","b":89.6,"v":0},
{"c":"Q","r":4,"m":"r","b":-41.1,"v":-2},{"c":"Q","r":4,"m":"r","b":-10,"v":0},{"c":"Q","r":4,"m":"r","b":0,"v":5},{"c":"Q","r":4,"m":"r","b":3,"v":5},{"c":"Q","r":4,"m":"r","b":10,"v":2},{"c":"Q","r":4,"m":"r","b":89.6,"v":0},
{"c":"Q","r":5,"m":"y","b":-20.8,"v":35},{"c":"Q","r":5,"m":"y","b":-15,"v":28},{"c":"Q","r":5,"m":"y","b":-8,"v":28},{"c":"Q","r":5,"m":"y","b":-4,"v":40},{"c":"Q","r":5,"m":"y","b":-1,"v":80},{"c":"Q","r":5,"m":"y","b":1.6,"v":65},{"c":"Q","r":5,"m":"y","b":4,"v":30},{"c":"Q","r":5,"m":"y","b":7,"v":12},{"c":"Q","r":5,"m":"y","b":10,"v":6},{"c":"Q","r":5,"m":"y","b":20,"v":3},{"c":"Q","r":5,"m":"y","b":89.6,"v":0},
{"c":"Q","r":5,"m":"lg","b":-20.8,"v":30},{"c":"Q","r":5,"m":"lg","b":-15,"v":25},{"c":"Q","r":5,"m":"lg","b":-8,"v":25},{"c":"Q","r":5,"m":"lg","b":-4,"v":35},{"c":"Q","r":5,"m":"lg","b":-1,"v":60},{"c":"Q","r":5,"m":"lg","b":1.6,"v":50},{"c":"Q","r":5,"m":"lg","b":4,"v":22},{"c":"Q","r":5,"m":"lg","b":8,"v":8},{"c":"Q","r":5,"m":"lg","b":15,"v":3},{"c":"Q","r":5,"m":"lg","b":89.6,"v":0},
{"c":"Q","r":5,"m":"k","b":-20.8,"v":22},{"c":"Q","r":5,"m":"k","b":-15,"v":20},{"c":"Q","r":5,"m":"k","b":-8,"v":18},{"c":"Q","r":5,"m":"k","b":-4,"v":22},{"c":"Q","r":5,"m":"k","b":-1,"v":40},{"c":"Q","r":5,"m":"k","b":1.6,"v":35},{"c":"Q","r":5,"m":"k","b":4,"v":18},{"c":"Q","r":5,"m":"k","b":7,"v":8},{"c":"Q","r":5,"m":"k","b":12,"v":2},{"c":"Q","r":5,"m":"k","b":89.6,"v":0},
{"c":"Q","r":5,"m":"g","b":-20.8,"v":15},{"c":"Q","r":5,"m":"g","b":-10,"v":12},{"c":"Q","r":5,"m":"g","b":-3,"v":18},{"c":"Q","r":5,"m":"g","b":0,"v":25},{"c":"Q","r":5,"m":"g","b":3,"v":15},{"c":"Q","r":5,"m":"g","b":7,"v":5},{"c":"Q","r":5,"m":"g","b":89.6,"v":0},
{"c":"Q","r":5,"m":"o","b":-20.8,"v":10},{"c":"Q","r":5,"m":"o","b":-10,"v":10},{"c":"Q","r":5,"m":"o","b":-3,"v":15},{"c":"Q","r":5,"m":"o","b":0,"v":30},{"c":"Q","r":5,"m":"o","b":3,"v":22},{"c":"Q","r":5,"m":"o","b":7,"v":8},{"c":"Q","r":5,"m":"o","b":12,"v":3},{"c":"Q","r":5,"m":"o","b":89.6,"v":0},
{"c":"Q","r":5,"m":"r","b":-20.8,"v":5},{"c":"Q","r":5,"m":"r","b":-5,"v":6},{"c":"Q","r":5,"m":"r","b":0,"v":8},{"c":"Q","r":5,"m":"r","b":5,"v":3},{"c":"Q","r":5,"m":"r","b":89.6,"v":1},
{"c":"Q","r":5,"m":"c","b":-20.8,"v":2},{"c":"Q","r":5,"m":"c","b":-5,"v":3},{"c":"Q","r":5,"m":"c","b":0,"v":2},{"c":"Q","r":5,"m":"c","b":10,"v":1},{"c":"Q","r":5,"m":"c","b":89.6,"v":0},
{"c":"Q","r":6,"m":"g","b":74.2,"v":1.5},{"c":"Q","r":6,"m":"g","b":89.6,"v":1.5},{"c":"Q","r":6,"m":"c","b":74.2,"v":1},{"c":"Q","r":6,"m":"c","b":89.6,"v":1},{"c":"Q","r":6,"m":"o","b":74.2,"v":-1},{"c":"Q","r":6,"m":"o","b":89.6,"v":-1},{"c":"Q","r":6,"m":"r","b":74.2,"v":0},{"c":"Q","r":6,"m":"r","b":89.6,"v":0},
{"c":"Q","r":7,"m":"lg","b":66.7,"v":0},{"c":"Q","r":7,"m":"lg","b":89.6,"v":0},{"c":"Q","r":7,"m":"g","b":66.7,"v":-1},{"c":"Q","r":7,"m":"g","b":89.6,"v":-1},{"c":"Q","r":7,"m":"y","b":66.7,"v":-2},{"c":"Q","r":7,"m":"y","b":89.6,"v":-2},
{"c":"U","r":1,"m":"r","b":38.5,"v":2},{"c":"U","r":1,"m":"r","b":87,"v":2},{"c":"U","r":1,"m":"o","b":38.5,"v":1},{"c":"U","r":1,"m":"o","b":87,"v":1},{"c":"U","r":1,"m":"y","b":38.5,"v":-1.5},{"c":"U","r":1,"m":"y","b":87,"v":-1.5},{"c":"U","r":1,"m":"g","b":38.5,"v":-2.5},{"c":"U","r":1,"m":"g","b":87,"v":-2.5},{"c":"U","r":1,"m":"k","b":38.5,"v":0},{"c":"U","r":1,"m":"k","b":87,"v":0},
{"c":"U","r":2,"m":"r","b":-11.1,"v":5},{"c":"U","r":2,"m":"r","b":0,"v":3},{"c":"U","r":2,"m":"r","b":5,"v":-3},{"c":"U","r":2,"m":"r","b":89,"v":0},{"c":"U","r":2,"m":"c","b":-11.1,"v":0},{"c":"U","r":2,"m":"c","b":0,"v":-5},{"c":"U","r":2,"m":"c","b":3,"v":10},{"c":"U","r":2,"m":"c","b":10,"v":0},{"c":"U","r":2,"m":"c","b":89,"v":0},{"c":"U","r":2,"m":"g","b":-11.1,"v":-2},{"c":"U","r":2,"m":"g","b":89,"v":0},{"c":"U","r":2,"m":"o","b":-11.1,"v":2},{"c":"U","r":2,"m":"o","b":89,"v":-3},
{"c":"U","r":3,"m":"r","b":-38.7,"v":3},{"c":"U","r":3,"m":"r","b":-10,"v":3},{"c":"U","r":3,"m":"r","b":-3,"v":2},{"c":"U","r":3,"m":"r","b":2,"v":-5},{"c":"U","r":3,"m":"r","b":5,"v":-8},{"c":"U","r":3,"m":"r","b":8,"v":-5},{"c":"U","r":3,"m":"r","b":15,"v":-2},{"c":"U","r":3,"m":"r","b":86.3,"v":0},
{"c":"U","r":3,"m":"g","b":-38.7,"v":-2},{"c":"U","r":3,"m":"g","b":-10,"v":-2},{"c":"U","r":3,"m":"g","b":-3,"v":-5},{"c":"U","r":3,"m":"g","b":0,"v":5},{"c":"U","r":3,"m":"g","b":3,"v":10},{"c":"U","r":3,"m":"g","b":6,"v":8},{"c":"U","r":3,"m":"g","b":10,"v":5},{"c":"U","r":3,"m":"g","b":15,"v":2},{"c":"U","r":3,"m":"g","b":86.3,"v":1},
{"c":"U","r":3,"m":"o","b":-38.7,"v":2},{"c":"U","r":3,"m":"o","b":-5,"v":2},{"c":"U","r":3,"m":"o","b":3,"v":-4},{"c":"U","r":3,"m":"o","b":8,"v":-2},{"c":"U","r":3,"m":"o","b":86.3,"v":0},
{"c":"U","r":3,"m":"y","b":-38.7,"v":0},{"c":"U","r":3,"m":"y","b":-5,"v":0},{"c":"U","r":3,"m":"y","b":3,"v":-3},{"c":"U","r":3,"m":"y","b":8,"v":-2},{"c":"U","r":3,"m":"y","b":86.3,"v":0},
{"c":"U","r":3,"m":"c","b":-38.7,"v":1},{"c":"U","r":3,"m":"c","b":-5,"v":0},{"c":"U","r":3,"m":"c","b":3,"v":5},{"c":"U","r":3,"m":"c","b":8,"v":3},{"c":"U","r":3,"m":"c","b":15,"v":1},{"c":"U","r":3,"m":"c","b":86.3,"v":0},
{"c":"U","r":3,"m":"k","b":-38.7,"v":0},{"c":"U","r":3,"m":"k","b":-3,"v":-2},{"c":"U","r":3,"m":"k","b":0,"v":0},{"c":"U","r":3,"m":"k","b":3,"v":8},{"c":"U","r":3,"m":"k","b":10,"v":3},{"c":"U","r":3,"m":"k","b":86.3,"v":0},
{"c":"U","r":4,"m":"y","b":-41.2,"v":-4},{"c":"U","r":4,"m":"y","b":-20,"v":-4},{"c":"U","r":4,"m":"y","b":-10,"v":-2},{"c":"U","r":4,"m":"y","b":-2,"v":0},{"c":"U","r":4,"m":"y","b":3,"v":4},{"c":"U","r":4,"m":"y","b":8,"v":1},{"c":"U","r":4,"m":"y","b":89,"v":0},
{"c":"U","r":4,"m":"o","b":-41.2,"v":-3},{"c":"U","r":4,"m":"o","b":-20,"v":-3},{"c":"U","r":4,"m":"o","b":-5,"v":-1},{"c":"U","r":4,"m":"o","b":3,"v":2},{"c":"U","r":4,"m":"o","b":89,"v":0},
{"c":"U","r":4,"m":"c","b":-41.2,"v":1},{"c":"U","r":4,"m":"c","b":-20,"v":1},{"c":"U","r":4,"m":"c","b":-5,"v":0},{"c":"U","r":4,"m":"c","b":3,"v":3},{"c":"U","r":4,"m":"c","b":89,"v":0},
{"c":"U","r":4,"m":"g","b":-41.2,"v":0},{"c":"U","r":4,"m":"g","b":-5,"v":-1},{"c":"U","r":4,"m":"g","b":3,"v":2},{"c":"U","r":4,"m":"g","b":89,"v":-1},
{"c":"U","r":4,"m":"r","b":-41.2,"v":-1},{"c":"U","r":4,"m":"r","b":89,"v":0},
{"c":"U","r":4,"m":"k","b":-41.2,"v":-1},{"c":"U","r":4,"m":"k","b":-20,"v":-1},{"c":"U","r":4,"m":"k","b":-3,"v":-1},{"c":"U","r":4,"m":"k","b":-1,"v":-3},{"c":"U","r":4,"m":"k","b":2,"v":2},{"c":"U","r":4,"m":"k","b":8,"v":0},{"c":"U","r":4,"m":"k","b":89,"v":0},
{"c":"U","r":5,"m":"g","b":-21.3,"v":9},{"c":"U","r":5,"m":"g","b":-15,"v":6},{"c":"U","r":5,"m":"g","b":-8,"v":2},{"c":"U","r":5,"m":"g","b":-3,"v":0},{"c":"U","r":5,"m":"g","b":89,"v":-1},
{"c":"U","r":5,"m":"c","b":-21.3,"v":5},{"c":"U","r":5,"m":"c","b":-15,"v":2},{"c":"U","r":5,"m":"c","b":-5,"v":0},{"c":"U","r":5,"m":"c","b":89,"v":0},
{"c":"U","r":5,"m":"r","b":-21.3,"v":-5},{"c":"U","r":5,"m":"r","b":-15,"v":-4},{"c":"U","r":5,"m":"r","b":-5,"v":-1},{"c":"U","r":5,"m":"r","b":89,"v":0},
{"c":"U","r":5,"m":"o","b":-21.3,"v":-12},{"c":"U","r":5,"m":"o","b":-15,"v":-8},{"c":"U","r":5,"m":"o","b":-5,"v":-3},{"c":"U","r":5,"m":"o","b":0,"v":1},{"c":"U","r":5,"m":"o","b":3,"v":3},{"c":"U","r":5,"m":"o","b":7,"v":1},{"c":"U","r":5,"m":"o","b":89,"v":0},
{"c":"U","r":5,"m":"y","b":-21.3,"v":-10},{"c":"U","r":5,"m":"y","b":-15,"v":-7},{"c":"U","r":5,"m":"y","b":-5,"v":-2},{"c":"U","r":5,"m":"y","b":0,"v":0},{"c":"U","r":5,"m":"y","b":89,"v":0},
{"c":"U","r":5,"m":"k","b":-21.3,"v":8},{"c":"U","r":5,"m":"k","b":-10,"v":3},{"c":"U","r":5,"m":"k","b":0,"v":0},{"c":"U","r":5,"m":"k","b":89,"v":0},
{"c":"U","r":6,"m":"g","b":74,"v":1.5},{"c":"U","r":6,"m":"g","b":89,"v":1.5},{"c":"U","r":6,"m":"y","b":74,"v":1},{"c":"U","r":6,"m":"y","b":89,"v":1},{"c":"U","r":6,"m":"r","b":74,"v":-2},{"c":"U","r":6,"m":"r","b":89,"v":-2},{"c":"U","r":6,"m":"o","b":74,"v":-1},{"c":"U","r":6,"m":"o","b":89,"v":-1},
{"c":"U","r":7,"m":"r","b":66.5,"v":1},{"c":"U","r":7,"m":"r","b":87,"v":1},{"c":"U","r":7,"m":"o","b":66.5,"v":0.5},{"c":"U","r":7,"m":"o","b":87,"v":0.5},{"c":"U","r":7,"m":"g","b":66.5,"v":-1},{"c":"U","r":7,"m":"g","b":87,"v":-1}
]
},
"hconcat":[
{"title":{"text":"Q"},"spacing":0,"bounds":"flush","resolve":{"scale":{"shape":"independent"},"legend":{"shape":"independent"}},
"vconcat":[
{"width":504,"height":93,"layer":[
 {"data":{"name":"mod"},"transform":[{"filter":"datum.c=='Q'&&datum.r==1"}],"mark":{"type":"line","clip":true,"strokeWidth":1.3},
  "encoding":{"x":{"field":"b","type":"quantitative","scale":{"domain":[-90,90],"nice":false,"zero":false},"axis":{"orient":"bottom","values":[-90,-80,-70,-60,-50,-40,-30,-20,-10,0,10,20,30,40,50,60,70,80,90],"labels":false,"tickSize":{"condition":{"test":"datum.value % 50 == 0","value":-7},"value":-4},"title":null}},
   "y":{"field":"v","type":"quantitative","scale":{"domain":[-44.5,85.5],"nice":false,"zero":false},"axis":{"orient":"left","values":[-40,-35,-30,-25,-20,-15,-10,-5,0,5,10,15,20,25,30,35,40,45,50,55,60,65,70,75,80,85],"labelExpr":"datum.value % 20 == 0 ? format(datum.value,'d') : ''","tickSize":{"condition":{"test":"datum.value % 20 == 0","value":-7},"value":-4},"title":null}},
   "color":{"field":"m","type":"nominal","scale":{"domain":["k","c","g","lg","y","o","r"],"range":["#000000","#00e5ff","#00dd00","#99ff00","#eedd00","#ff9900","#ff1a00"]},"legend":null},
   "strokeDash":{"field":"m","type":"nominal","scale":{"domain":["k","c","g","lg","y","o","r"],"range":[[1,0],[6,2,1,2],[6,3],[4,2,1,2,1,2],[6,2,1,2],[5,3],[7,2,2,2]]},"legend":null}}},
 {"data":{"name":"pts"},"transform":[{"filter":"datum.c=='Q'&&datum.r==1"}],"mark":{"type":"errorbar","ticks":{"size":6},"color":"#3a3a3a","clip":true},
  "encoding":{"x":{"field":"b","type":"quantitative","scale":{"domain":[-90,90],"nice":false,"zero":false},"axis":null},"y":{"field":"v","type":"quantitative","scale":{"domain":[-44.5,85.5],"nice":false,"zero":false},"axis":null},"yError":{"field":"e"}}},
 {"data":{"name":"pts"},"transform":[{"filter":"datum.c=='Q'&&datum.r==1"}],"mark":{"type":"point","clip":true,"filled":false,"color":"#000","strokeWidth":1.3,"size":40,"opacity":1},
  "encoding":{"x":{"field":"b","type":"quantitative","scale":{"domain":[-90,90],"nice":false,"zero":false},"axis":{"orient":"top","values":[-90,-80,-70,-60,-50,-40,-30,-20,-10,0,10,20,30,40,50,60,70,80,90],"labels":false,"tickSize":{"condition":{"test":"datum.value % 50 == 0","value":-7},"value":-4},"title":null}},
   "y":{"field":"v","type":"quantitative","scale":{"domain":[-44.5,85.5],"nice":false,"zero":false},"axis":{"orient":"right","values":[-40,-35,-30,-25,-20,-15,-10,-5,0,5,10,15,20,25,30,35,40,45,50,55,60,65,70,75,80,85],"labels":false,"tickSize":{"condition":{"test":"datum.value % 20 == 0","value":-7},"value":-4},"title":null}},
   "shape":{"datum":"\u20020\u2002<\u2002l\u2002<\u200230\u2002","type":"nominal","scale":{"range":["M-1,0H1M0,-1V1"]},"legend":{"orient":"none","legendX":398,"legendY":17,"title":null}}}}
],"resolve":{"axis":{"x":"independent","y":"independent"}}},
{"width":504,"height":93,"layer":[
 {"data":{"name":"mod"},"transform":[{"filter":"datum.c=='Q'&&datum.r==2"}],"mark":{"type":"line","clip":true,"strokeWidth":1.3},
  "encoding":{"x":{"field":"b","type":"quantitative","scale":{"domain":[-90,90],"nice":false,"zero":false},"axis":{"orient":"bottom","values":[-90,-80,-70,-60,-50,-40,-30,-20,-10,0,10,20,30,40,50,60,70,80,90],"labels":false,"tickSize":{"condition":{"test":"datum.value % 50 == 0","value":-7},"value":-4},"title":null}},
   "y":{"field":"v","type":"quantitative","scale":{"domain":[-261,155],"nice":false,"zero":false},"axis":{"orient":"left","values":[-260,-240,-220,-200,-180,-160,-140,-120,-100,-80,-60,-40,-20,0,20,40,60,80,100,120,140],"labelExpr":"datum.value % 100 == 0 ? format(datum.value,'d') : ''","tickSize":{"condition":{"test":"datum.value % 100 == 0","value":-7},"value":-4},"title":null}},
   "color":{"field":"m","type":"nominal","scale":{"domain":["k","c","g","lg","y","o","r"],"range":["#000000","#00e5ff","#00dd00","#99ff00","#eedd00","#ff9900","#ff1a00"]},"legend":null},
   "strokeDash":{"field":"m","type":"nominal","scale":{"domain":["k","c","g","lg","y","o","r"],"range":[[1,0],[6,2,1,2],[6,3],[4,2,1,2,1,2],[6,2,1,2],[5,3],[7,2,2,2]]},"legend":null}}},
 {"data":{"name":"pts"},"transform":[{"filter":"datum.c=='Q'&&datum.r==2"}],"mark":{"type":"errorbar","ticks":{"size":6},"color":"#3a3a3a","clip":true},
  "encoding":{"x":{"field":"b","type":"quantitative","scale":{"domain":[-90,90],"nice":false,"zero":false},"axis":null},"y":{"field":"v","type":"quantitative","scale":{"domain":[-261,155],"nice":false,"zero":false},"axis":null},"yError":{"field":"e"}}},
 {"data":{"name":"pts"},"transform":[{"filter":"datum.c=='Q'&&datum.r==2"}],"mark":{"type":"point","clip":true,"filled":false,"color":"#000","strokeWidth":1.3,"size":40,"opacity":1},
  "encoding":{"x":{"field":"b","type":"quantitative","scale":{"domain":[-90,90],"nice":false,"zero":false},"axis":{"orient":"top","values":[-90,-80,-70,-60,-50,-40,-30,-20,-10,0,10,20,30,40,50,60,70,80,90],"labels":false,"tickSize":{"condition":{"test":"datum.value % 50 == 0","value":-7},"value":-4},"title":null}},
   "y":{"field":"v","type":"quantitative","scale":{"domain":[-261,155],"nice":false,"zero":false},"axis":{"orient":"right","values":[-260,-240,-220,-200,-180,-160,-140,-120,-100,-80,-60,-40,-20,0,20,40,60,80,100,120,140],"labels":false,"tickSize":{"condition":{"test":"datum.value % 100 == 0","value":-7},"value":-4},"title":null}},
   "shape":{"datum":"\u200230\u2002<\u2002l\u2002<\u200290\u2002","type":"nominal","scale":{"range":["M-1,0H1M0,-1V1"]},"legend":{"orient":"none","legendX":389,"legendY":31,"title":null}}}}
],"resolve":{"axis":{"x":"independent","y":"independent"}}},
{"width":504,"height":93,"layer":[
 {"data":{"name":"mod"},"transform":[{"filter":"datum.c=='Q'&&datum.r==3"}],"mark":{"type":"line","clip":true,"strokeWidth":1.3},
  "encoding":{"x":{"field":"b","type":"quantitative","scale":{"domain":[-90,90],"nice":false,"zero":false},"axis":{"orient":"bottom","values":[-90,-80,-70,-60,-50,-40,-30,-20,-10,0,10,20,30,40,50,60,70,80,90],"labels":false,"tickSize":{"condition":{"test":"datum.value % 50 == 0","value":-7},"value":-4},"title":null}},
   "y":{"field":"v","type":"quantitative","scale":{"domain":[-185,162],"nice":false,"zero":false},"axis":{"orient":"left","values":[-180,-170,-160,-150,-140,-130,-120,-110,-100,-90,-80,-70,-60,-50,-40,-30,-20,-10,0,10,20,30,40,50,60,70,80,90,100,110,120,130,140,150,160],"labelExpr":"datum.value % 50 == 0 ? format(datum.value,'d') : ''","tickSize":{"condition":{"test":"datum.value % 50 == 0","value":-7},"value":-4},"title":null}},
   "color":{"field":"m","type":"nominal","scale":{"domain":["k","c","g","lg","y","o","r"],"range":["#000000","#00e5ff","#00dd00","#99ff00","#eedd00","#ff9900","#ff1a00"]},"legend":null},
   "strokeDash":{"field":"m","type":"nominal","scale":{"domain":["k","c","g","lg","y","o","r"],"range":[[1,0],[6,2,1,2],[6,3],[4,2,1,2,1,2],[6,2,1,2],[5,3],[7,2,2,2]]},"legend":null}}},
 {"data":{"name":"pts"},"transform":[{"filter":"datum.c=='Q'&&datum.r==3"}],"mark":{"type":"errorbar","ticks":{"size":6},"color":"#3a3a3a","clip":true},
  "encoding":{"x":{"field":"b","type":"quantitative","scale":{"domain":[-90,90],"nice":false,"zero":false},"axis":null},"y":{"field":"v","type":"quantitative","scale":{"domain":[-185,162],"nice":false,"zero":false},"axis":null},"yError":{"field":"e"}}},
 {"data":{"name":"pts"},"transform":[{"filter":"datum.c=='Q'&&datum.r==3"}],"mark":{"type":"point","clip":true,"filled":false,"color":"#000","strokeWidth":1.3,"size":40,"opacity":1},
  "encoding":{"x":{"field":"b","type":"quantitative","scale":{"domain":[-90,90],"nice":false,"zero":false},"axis":{"orient":"top","values":[-90,-80,-70,-60,-50,-40,-30,-20,-10,0,10,20,30,40,50,60,70,80,90],"labels":false,"tickSize":{"condition":{"test":"datum.value % 50 == 0","value":-7},"value":-4},"title":null}},
   "y":{"field":"v","type":"quantitative","scale":{"domain":[-185,162],"nice":false,"zero":false},"axis":{"orient":"right","values":[-180,-170,-160,-150,-140,-130,-120,-110,-100,-90,-80,-70,-60,-50,-40,-30,-20,-10,0,10,20,30,40,50,60,70,80,90,100,110,120,130,140,150,160],"labels":false,"tickSize":{"condition":{"test":"datum.value % 50 == 0","value":-7},"value":-4},"title":null}},
   "shape":{"datum":"\u200290\u2002<\u2002l\u2002<\u2002120\u2002","type":"nominal","scale":{"range":["M-1,0H1M0,-1V1"]},"legend":{"orient":"none","legendX":380,"legendY":16,"title":null}}}}
],"resolve":{"axis":{"x":"independent","y":"independent"}}},
{"width":504,"height":93,"layer":[
 {"data":{"name":"mod"},"transform":[{"filter":"datum.c=='Q'&&datum.r==4"}],"mark":{"type":"line","clip":true,"strokeWidth":1.3},
  "encoding":{"x":{"field":"b","type":"quantitative","scale":{"domain":[-90,90],"nice":false,"zero":false},"axis":{"orient":"bottom","values":[-90,-80,-70,-60,-50,-40,-30,-20,-10,0,10,20,30,40,50,60,70,80,90],"labels":false,"tickSize":{"condition":{"test":"datum.value % 50 == 0","value":-7},"value":-4},"title":null}},
   "y":{"field":"v","type":"quantitative","scale":{"domain":[-95,161],"nice":false,"zero":false},"axis":{"orient":"left","values":[-90,-80,-70,-60,-50,-40,-30,-20,-10,0,10,20,30,40,50,60,70,80,90,100,110,120,130,140,150,160],"labelExpr":"datum.value % 50 == 0 ? format(datum.value,'d') : ''","tickSize":{"condition":{"test":"datum.value % 50 == 0","value":-7},"value":-4},"title":"Q\u2002\u03bcK\u1d63\u2c7c","titlePadding":20}},
   "color":{"field":"m","type":"nominal","scale":{"domain":["k","c","g","lg","y","o","r"],"range":["#000000","#00e5ff","#00dd00","#99ff00","#eedd00","#ff9900","#ff1a00"]},"legend":null},
   "strokeDash":{"field":"m","type":"nominal","scale":{"domain":["k","c","g","lg","y","o","r"],"range":[[1,0],[6,2,1,2],[6,3],[4,2,1,2,1,2],[6,2,1,2],[5,3],[7,2,2,2]]},"legend":null}}},
 {"data":{"name":"pts"},"transform":[{"filter":"datum.c=='Q'&&datum.r==4"}],"mark":{"type":"errorbar","ticks":{"size":6},"color":"#3a3a3a","clip":true},
  "encoding":{"x":{"field":"b","type":"quantitative","scale":{"domain":[-90,90],"nice":false,"zero":false},"axis":null},"y":{"field":"v","type":"quantitative","scale":{"domain":[-95,161],"nice":false,"zero":false},"axis":null},"yError":{"field":"e"}}},
 {"data":{"name":"pts"},"transform":[{"filter":"datum.c=='Q'&&datum.r==4"}],"mark":{"type":"point","clip":true,"filled":false,"color":"#000","strokeWidth":1.3,"size":40,"opacity":1},
  "encoding":{"x":{"field":"b","type":"quantitative","scale":{"domain":[-90,90],"nice":false,"zero":false},"axis":{"orient":"top","values":[-90,-80,-70,-60,-50,-40,-30,-20,-10,0,10,20,30,40,50,60,70,80,90],"labels":false,"tickSize":{"condition":{"test":"datum.value % 50 == 0","value":-7},"value":-4},"title":null}},
   "y":{"field":"v","type":"quantitative","scale":{"domain":[-95,161],"nice":false,"zero":false},"axis":{"orient":"right","values":[-90,-80,-70,-60,-50,-40,-30,-20,-10,0,10,20,30,40,50,60,70,80,90,100,110,120,130,140,150,160],"labels":false,"tickSize":{"condition":{"test":"datum.value % 50 == 0","value":-7},"value":-4},"title":null}},
   "shape":{"datum":"\u2002120\u2002<\u2002l\u2002<\u2002180\u2002","type":"nominal","scale":{"range":["M-1,0H1M0,-1V1"]},"legend":{"orient":"none","legendX":371,"legendY":31,"title":null}}}}
],"resolve":{"axis":{"x":"independent","y":"independent"}}},
{"width":504,"height":93,"layer":[
 {"data":{"name":"mod"},"transform":[{"filter":"datum.c=='Q'&&datum.r==5"}],"mark":{"type":"line","clip":true,"strokeWidth":1.3},
  "encoding":{"x":{"field":"b","type":"quantitative","scale":{"domain":[-90,90],"nice":false,"zero":false},"axis":{"orient":"bottom","values":[-90,-80,-70,-60,-50,-40,-30,-20,-10,0,10,20,30,40,50,60,70,80,90],"labels":false,"tickSize":{"condition":{"test":"datum.value % 50 == 0","value":-7},"value":-4},"title":null}},
   "y":{"field":"v","type":"quantitative","scale":{"domain":[-48,96],"nice":false,"zero":false},"axis":{"orient":"left","values":[-45,-40,-35,-30,-25,-20,-15,-10,-5,0,5,10,15,20,25,30,35,40,45,50,55,60,65,70,75,80,85,90,95],"labelExpr":"datum.value % 20 == 0 ? format(datum.value,'d') : ''","tickSize":{"condition":{"test":"datum.value % 20 == 0","value":-7},"value":-4},"title":null}},
   "color":{"field":"m","type":"nominal","scale":{"domain":["k","c","g","lg","y","o","r"],"range":["#000000","#00e5ff","#00dd00","#99ff00","#eedd00","#ff9900","#ff1a00"]},"legend":null},
   "strokeDash":{"field":"m","type":"nominal","scale":{"domain":["k","c","g","lg","y","o","r"],"range":[[1,0],[6,2,1,2],[6,3],[4,2,1,2,1,2],[6,2,1,2],[5,3],[7,2,2,2]]},"legend":null}}},
 {"data":{"name":"pts"},"transform":[{"filter":"datum.c=='Q'&&datum.r==5"}],"mark":{"type":"errorbar","ticks":{"size":6},"color":"#3a3a3a","clip":true},
  "encoding":{"x":{"field":"b","type":"quantitative","scale":{"domain":[-90,90],"nice":false,"zero":false},"axis":null},"y":{"field":"v","type":"quantitative","scale":{"domain":[-48,96],"nice":false,"zero":false},"axis":null},"yError":{"field":"e"}}},
 {"data":{"name":"pts"},"transform":[{"filter":"datum.c=='Q'&&datum.r==5"}],"mark":{"type":"point","clip":true,"filled":false,"color":"#000","strokeWidth":1.3,"size":40,"opacity":1},
  "encoding":{"x":{"field":"b","type":"quantitative","scale":{"domain":[-90,90],"nice":false,"zero":false},"axis":{"orient":"top","values":[-90,-80,-70,-60,-50,-40,-30,-20,-10,0,10,20,30,40,50,60,70,80,90],"labels":false,"tickSize":{"condition":{"test":"datum.value % 50 == 0","value":-7},"value":-4},"title":null}},
   "y":{"field":"v","type":"quantitative","scale":{"domain":[-48,96],"nice":false,"zero":false},"axis":{"orient":"right","values":[-45,-40,-35,-30,-25,-20,-15,-10,-5,0,5,10,15,20,25,30,35,40,45,50,55,60,65,70,75,80,85,90,95],"labels":false,"tickSize":{"condition":{"test":"datum.value % 20 == 0","value":-7},"value":-4},"title":null}},
   "shape":{"datum":"\u2002180\u2002<\u2002l\u2002<\u2002270\u2002","type":"nominal","scale":{"range":["M-1,0H1M0,-1V1"]},"legend":{"orient":"none","legendX":371,"legendY":15,"title":null}}}}
],"resolve":{"axis":{"x":"independent","y":"independent"}}},
{"width":504,"height":93,"layer":[
 {"data":{"name":"mod"},"transform":[{"filter":"datum.c=='Q'&&datum.r==6"}],"mark":{"type":"line","clip":true,"strokeWidth":1.3},
  "encoding":{"x":{"field":"b","type":"quantitative","scale":{"domain":[-90,90],"nice":false,"zero":false},"axis":{"orient":"bottom","values":[-90,-80,-70,-60,-50,-40,-30,-20,-10,0,10,20,30,40,50,60,70,80,90],"labels":false,"tickSize":{"condition":{"test":"datum.value % 50 == 0","value":-7},"value":-4},"title":null}},
   "y":{"field":"v","type":"quantitative","scale":{"domain":[-27,65],"nice":false,"zero":false},"axis":{"orient":"left","values":[-25,-20,-15,-10,-5,0,5,10,15,20,25,30,35,40,45,50,55,60,65],"labelExpr":"datum.value % 20 == 0 ? format(datum.value,'d') : ''","tickSize":{"condition":{"test":"datum.value % 20 == 0","value":-7},"value":-4},"title":null}},
   "color":{"field":"m","type":"nominal","scale":{"domain":["k","c","g","lg","y","o","r"],"range":["#000000","#00e5ff","#00dd00","#99ff00","#eedd00","#ff9900","#ff1a00"]},"legend":null},
   "strokeDash":{"field":"m","type":"nominal","scale":{"domain":["k","c","g","lg","y","o","r"],"range":[[1,0],[6,2,1,2],[6,3],[4,2,1,2,1,2],[6,2,1,2],[5,3],[7,2,2,2]]},"legend":null}}},
 {"data":{"name":"pts"},"transform":[{"filter":"datum.c=='Q'&&datum.r==6"}],"mark":{"type":"errorbar","ticks":{"size":6},"color":"#3a3a3a","clip":true},
  "encoding":{"x":{"field":"b","type":"quantitative","scale":{"domain":[-90,90],"nice":false,"zero":false},"axis":null},"y":{"field":"v","type":"quantitative","scale":{"domain":[-27,65],"nice":false,"zero":false},"axis":null},"yError":{"field":"e"}}},
 {"data":{"name":"pts"},"transform":[{"filter":"datum.c=='Q'&&datum.r==6"}],"mark":{"type":"point","clip":true,"filled":false,"color":"#000","strokeWidth":1.3,"size":40,"opacity":1},
  "encoding":{"x":{"field":"b","type":"quantitative","scale":{"domain":[-90,90],"nice":false,"zero":false},"axis":{"orient":"top","values":[-90,-80,-70,-60,-50,-40,-30,-20,-10,0,10,20,30,40,50,60,70,80,90],"labels":false,"tickSize":{"condition":{"test":"datum.value % 50 == 0","value":-7},"value":-4},"title":null}},
   "y":{"field":"v","type":"quantitative","scale":{"domain":[-27,65],"nice":false,"zero":false},"axis":{"orient":"right","values":[-25,-20,-15,-10,-5,0,5,10,15,20,25,30,35,40,45,50,55,60,65],"labels":false,"tickSize":{"condition":{"test":"datum.value % 20 == 0","value":-7},"value":-4},"title":null}},
   "shape":{"datum":"\u2002270\u2002<\u2002l\u2002<\u2002330\u2002","type":"nominal","scale":{"range":["M-1,0H1M0,-1V1"]},"legend":{"orient":"none","legendX":371,"legendY":29,"title":null}}}}
],"resolve":{"axis":{"x":"independent","y":"independent"}}},
{"width":504,"height":93,"layer":[
 {"data":{"name":"mod"},"transform":[{"filter":"datum.c=='Q'&&datum.r==7"}],"mark":{"type":"line","clip":true,"strokeWidth":1.3},
  "encoding":{"x":{"field":"b","type":"quantitative","scale":{"domain":[-90,90],"nice":false,"zero":false},"axis":{"orient":"bottom","values":[-90,-72,-54,-36,-18,0,18,36,54,72,90],"labelExpr":"format(datum.value,'d') + '.'","tickSize":-5,"labelPadding":6,"title":"b (deg)","titlePadding":3}},
   "y":{"field":"v","type":"quantitative","scale":{"domain":[-3,212],"nice":false,"zero":false},"axis":{"orient":"left","values":[0,10,20,30,40,50,60,70,80,90,100,110,120,130,140,150,160,170,180,190,200,210],"labelExpr":"datum.value % 50 == 0 ? format(datum.value,'d') : ''","tickSize":{"condition":{"test":"datum.value % 50 == 0","value":-7},"value":-4},"title":null}},
   "color":{"field":"m","type":"nominal","scale":{"domain":["k","c","g","lg","y","o","r"],"range":["#000000","#00e5ff","#00dd00","#99ff00","#eedd00","#ff9900","#ff1a00"]},"legend":null},
   "strokeDash":{"field":"m","type":"nominal","scale":{"domain":["k","c","g","lg","y","o","r"],"range":[[1,0],[6,2,1,2],[6,3],[4,2,1,2,1,2],[6,2,1,2],[5,3],[7,2,2,2]]},"legend":null}}},
 {"data":{"name":"pts"},"transform":[{"filter":"datum.c=='Q'&&datum.r==7"}],"mark":{"type":"errorbar","ticks":{"size":6},"color":"#3a3a3a","clip":true},
  "encoding":{"x":{"field":"b","type":"quantitative","scale":{"domain":[-90,90],"nice":false,"zero":false},"axis":null},"y":{"field":"v","type":"quantitative","scale":{"domain":[-3,212],"nice":false,"zero":false},"axis":null},"yError":{"field":"e"}}},
 {"data":{"name":"pts"},"transform":[{"filter":"datum.c=='Q'&&datum.r==7"}],"mark":{"type":"point","clip":true,"filled":false,"color":"#000","strokeWidth":1.3,"size":40,"opacity":1},
  "encoding":{"x":{"field":"b","type":"quantitative","scale":{"domain":[-90,90],"nice":false,"zero":false},"axis":{"orient":"top","values":[-90,-80,-70,-60,-50,-40,-30,-20,-10,0,10,20,30,40,50,60,70,80,90],"labels":false,"tickSize":{"condition":{"test":"datum.value % 50 == 0","value":-7},"value":-4},"title":null}},
   "y":{"field":"v","type":"quantitative","scale":{"domain":[-3,212],"nice":false,"zero":false},"axis":{"orient":"right","values":[0,10,20,30,40,50,60,70,80,90,100,110,120,130,140,150,160,170,180,190,200,210],"labels":false,"tickSize":{"condition":{"test":"datum.value % 50 == 0","value":-7},"value":-4},"title":null}},
   "shape":{"datum":"\u2002330\u2002<\u2002l\u2002<\u2002360\u2002","type":"nominal","scale":{"range":["M-1,0H1M0,-1V1"]},"legend":{"orient":"none","legendX":371,"legendY":14,"title":null}}}}
],"resolve":{"axis":{"x":"independent","y":"independent"}}}
]},
{"title":{"text":"U"},"spacing":0,"bounds":"flush","resolve":{"scale":{"shape":"independent"},"legend":{"shape":"independent"}},
"vconcat":[
{"width":504,"height":93,"layer":[
 {"data":{"name":"mod"},"transform":[{"filter":"datum.c=='U'&&datum.r==1"}],"mark":{"type":"line","clip":true,"strokeWidth":1.3},
  "encoding":{"x":{"field":"b","type":"quantitative","scale":{"domain":[-90,90],"nice":false,"zero":false},"axis":{"orient":"bottom","values":[-90,-80,-70,-60,-50,-40,-30,-20,-10,0,10,20,30,40,50,60,70,80,90],"labels":false,"tickSize":{"condition":{"test":"datum.value % 50 == 0","value":-7},"value":-4},"title":null}},
   "y":{"field":"v","type":"quantitative","scale":{"domain":[-27.5,94],"nice":false,"zero":false},"axis":{"orient":"left","values":[-25,-20,-15,-10,-5,0,5,10,15,20,25,30,35,40,45,50,55,60,65,70,75,80,85,90],"labelExpr":"datum.value % 20 == 0 ? format(datum.value,'d') : ''","tickSize":{"condition":{"test":"datum.value % 20 == 0","value":-7},"value":-4},"title":null}},
   "color":{"field":"m","type":"nominal","scale":{"domain":["k","c","g","lg","y","o","r"],"range":["#000000","#00e5ff","#00dd00","#99ff00","#eedd00","#ff9900","#ff1a00"]},"legend":null},
   "strokeDash":{"field":"m","type":"nominal","scale":{"domain":["k","c","g","lg","y","o","r"],"range":[[1,0],[6,2,1,2],[6,3],[4,2,1,2,1,2],[6,2,1,2],[5,3],[7,2,2,2]]},"legend":null}}},
 {"data":{"name":"pts"},"transform":[{"filter":"datum.c=='U'&&datum.r==1"}],"mark":{"type":"errorbar","ticks":{"size":6},"color":"#3a3a3a","clip":true},
  "encoding":{"x":{"field":"b","type":"quantitative","scale":{"domain":[-90,90],"nice":false,"zero":false},"axis":null},"y":{"field":"v","type":"quantitative","scale":{"domain":[-27.5,94],"nice":false,"zero":false},"axis":null},"yError":{"field":"e"}}},
 {"data":{"name":"pts"},"transform":[{"filter":"datum.c=='U'&&datum.r==1"}],"mark":{"type":"point","clip":true,"filled":false,"color":"#000","strokeWidth":1.3,"size":40,"opacity":1},
  "encoding":{"x":{"field":"b","type":"quantitative","scale":{"domain":[-90,90],"nice":false,"zero":false},"axis":{"orient":"top","values":[-90,-80,-70,-60,-50,-40,-30,-20,-10,0,10,20,30,40,50,60,70,80,90],"labels":false,"tickSize":{"condition":{"test":"datum.value % 50 == 0","value":-7},"value":-4},"title":null}},
   "y":{"field":"v","type":"quantitative","scale":{"domain":[-27.5,94],"nice":false,"zero":false},"axis":{"orient":"right","values":[-25,-20,-15,-10,-5,0,5,10,15,20,25,30,35,40,45,50,55,60,65,70,75,80,85,90],"labels":false,"tickSize":{"condition":{"test":"datum.value % 20 == 0","value":-7},"value":-4},"title":null}},
   "shape":{"datum":"\u20020\u2002<\u2002l\u2002<\u200230\u2002","type":"nominal","scale":{"range":["M-1,0H1M0,-1V1"]},"legend":{"orient":"none","legendX":398,"legendY":17,"title":null}}}}
],"resolve":{"axis":{"x":"independent","y":"independent"}}},
{"width":504,"height":93,"layer":[
 {"data":{"name":"mod"},"transform":[{"filter":"datum.c=='U'&&datum.r==2"}],"mark":{"type":"line","clip":true,"strokeWidth":1.3},
  "encoding":{"x":{"field":"b","type":"quantitative","scale":{"domain":[-90,90],"nice":false,"zero":false},"axis":{"orient":"bottom","values":[-90,-80,-70,-60,-50,-40,-30,-20,-10,0,10,20,30,40,50,60,70,80,90],"labels":false,"tickSize":{"condition":{"test":"datum.value % 50 == 0","value":-7},"value":-4},"title":null}},
   "y":{"field":"v","type":"quantitative","scale":{"domain":[-460,60],"nice":false,"zero":false},"axis":{"orient":"left","values":[-460,-440,-420,-400,-380,-360,-340,-320,-300,-280,-260,-240,-220,-200,-180,-160,-140,-120,-100,-80,-60,-40,-20,0,20,40,60],"labelExpr":"datum.value % 100 == 0 ? format(datum.value,'d') : ''","tickSize":{"condition":{"test":"datum.value % 100 == 0","value":-7},"value":-4},"title":null}},
   "color":{"field":"m","type":"nominal","scale":{"domain":["k","c","g","lg","y","o","r"],"range":["#000000","#00e5ff","#00dd00","#99ff00","#eedd00","#ff9900","#ff1a00"]},"legend":null},
   "strokeDash":{"field":"m","type":"nominal","scale":{"domain":["k","c","g","lg","y","o","r"],"range":[[1,0],[6,2,1,2],[6,3],[4,2,1,2,1,2],[6,2,1,2],[5,3],[7,2,2,2]]},"legend":null}}},
 {"data":{"name":"pts"},"transform":[{"filter":"datum.c=='U'&&datum.r==2"}],"mark":{"type":"errorbar","ticks":{"size":6},"color":"#3a3a3a","clip":true},
  "encoding":{"x":{"field":"b","type":"quantitative","scale":{"domain":[-90,90],"nice":false,"zero":false},"axis":null},"y":{"field":"v","type":"quantitative","scale":{"domain":[-460,60],"nice":false,"zero":false},"axis":null},"yError":{"field":"e"}}},
 {"data":{"name":"pts"},"transform":[{"filter":"datum.c=='U'&&datum.r==2"}],"mark":{"type":"point","clip":true,"filled":false,"color":"#000","strokeWidth":1.3,"size":40,"opacity":1},
  "encoding":{"x":{"field":"b","type":"quantitative","scale":{"domain":[-90,90],"nice":false,"zero":false},"axis":{"orient":"top","values":[-90,-80,-70,-60,-50,-40,-30,-20,-10,0,10,20,30,40,50,60,70,80,90],"labels":false,"tickSize":{"condition":{"test":"datum.value % 50 == 0","value":-7},"value":-4},"title":null}},
   "y":{"field":"v","type":"quantitative","scale":{"domain":[-460,60],"nice":false,"zero":false},"axis":{"orient":"right","values":[-460,-440,-420,-400,-380,-360,-340,-320,-300,-280,-260,-240,-220,-200,-180,-160,-140,-120,-100,-80,-60,-40,-20,0,20,40,60],"labels":false,"tickSize":{"condition":{"test":"datum.value % 100 == 0","value":-7},"value":-4},"title":null}},
   "shape":{"datum":"\u200230\u2002<\u2002l\u2002<\u200290\u2002","type":"nominal","scale":{"range":["M-1,0H1M0,-1V1"]},"legend":{"orient":"none","legendX":389,"legendY":33,"title":null}}}}
],"resolve":{"axis":{"x":"independent","y":"independent"}}},
{"width":504,"height":93,"layer":[
 {"data":{"name":"mod"},"transform":[{"filter":"datum.c=='U'&&datum.r==3"}],"mark":{"type":"line","clip":true,"strokeWidth":1.3},
  "encoding":{"x":{"field":"b","type":"quantitative","scale":{"domain":[-90,90],"nice":false,"zero":false},"axis":{"orient":"bottom","values":[-90,-80,-70,-60,-50,-40,-30,-20,-10,0,10,20,30,40,50,60,70,80,90],"labels":false,"tickSize":{"condition":{"test":"datum.value % 50 == 0","value":-7},"value":-4},"title":null}},
   "y":{"field":"v","type":"quantitative","scale":{"domain":[-78,49],"nice":false,"zero":false},"axis":{"orient":"left","values":[-75,-70,-65,-60,-55,-50,-45,-40,-35,-30,-25,-20,-15,-10,-5,0,5,10,15,20,25,30,35,40,45],"labelExpr":"datum.value % 20 == 0 ? format(datum.value,'d') : ''","tickSize":{"condition":{"test":"datum.value % 20 == 0","value":-7},"value":-4},"title":null}},
   "color":{"field":"m","type":"nominal","scale":{"domain":["k","c","g","lg","y","o","r"],"range":["#000000","#00e5ff","#00dd00","#99ff00","#eedd00","#ff9900","#ff1a00"]},"legend":null},
   "strokeDash":{"field":"m","type":"nominal","scale":{"domain":["k","c","g","lg","y","o","r"],"range":[[1,0],[6,2,1,2],[6,3],[4,2,1,2,1,2],[6,2,1,2],[5,3],[7,2,2,2]]},"legend":null}}},
 {"data":{"name":"pts"},"transform":[{"filter":"datum.c=='U'&&datum.r==3"}],"mark":{"type":"errorbar","ticks":{"size":6},"color":"#3a3a3a","clip":true},
  "encoding":{"x":{"field":"b","type":"quantitative","scale":{"domain":[-90,90],"nice":false,"zero":false},"axis":null},"y":{"field":"v","type":"quantitative","scale":{"domain":[-78,49],"nice":false,"zero":false},"axis":null},"yError":{"field":"e"}}},
 {"data":{"name":"pts"},"transform":[{"filter":"datum.c=='U'&&datum.r==3"}],"mark":{"type":"point","clip":true,"filled":false,"color":"#000","strokeWidth":1.3,"size":40,"opacity":1},
  "encoding":{"x":{"field":"b","type":"quantitative","scale":{"domain":[-90,90],"nice":false,"zero":false},"axis":{"orient":"top","values":[-90,-80,-70,-60,-50,-40,-30,-20,-10,0,10,20,30,40,50,60,70,80,90],"labels":false,"tickSize":{"condition":{"test":"datum.value % 50 == 0","value":-7},"value":-4},"title":null}},
   "y":{"field":"v","type":"quantitative","scale":{"domain":[-78,49],"nice":false,"zero":false},"axis":{"orient":"right","values":[-75,-70,-65,-60,-55,-50,-45,-40,-35,-30,-25,-20,-15,-10,-5,0,5,10,15,20,25,30,35,40,45],"labels":false,"tickSize":{"condition":{"test":"datum.value % 20 == 0","value":-7},"value":-4},"title":null}},
   "shape":{"datum":"\u200290\u2002<\u2002l\u2002<\u2002120\u2002","type":"nominal","scale":{"range":["M-1,0H1M0,-1V1"]},"legend":{"orient":"none","legendX":380,"legendY":15,"title":null}}}}
],"resolve":{"axis":{"x":"independent","y":"independent"}}},
{"width":504,"height":93,"layer":[
 {"data":{"name":"mod"},"transform":[{"filter":"datum.c=='U'&&datum.r==4"}],"mark":{"type":"line","clip":true,"strokeWidth":1.3},
  "encoding":{"x":{"field":"b","type":"quantitative","scale":{"domain":[-90,90],"nice":false,"zero":false},"axis":{"orient":"bottom","values":[-90,-80,-70,-60,-50,-40,-30,-20,-10,0,10,20,30,40,50,60,70,80,90],"labels":false,"tickSize":{"condition":{"test":"datum.value % 50 == 0","value":-7},"value":-4},"title":null}},
   "y":{"field":"v","type":"quantitative","scale":{"domain":[-36,64],"nice":false,"zero":false},"axis":{"orient":"left","values":[-35,-30,-25,-20,-15,-10,-5,0,5,10,15,20,25,30,35,40,45,50,55,60],"labelExpr":"datum.value % 20 == 0 ? format(datum.value,'d') : ''","tickSize":{"condition":{"test":"datum.value % 20 == 0","value":-7},"value":-4},"title":"U\u2002\u03bcK\u1d63\u2c7c","titlePadding":21}},
   "color":{"field":"m","type":"nominal","scale":{"domain":["k","c","g","lg","y","o","r"],"range":["#000000","#00e5ff","#00dd00","#99ff00","#eedd00","#ff9900","#ff1a00"]},"legend":null},
   "strokeDash":{"field":"m","type":"nominal","scale":{"domain":["k","c","g","lg","y","o","r"],"range":[[1,0],[6,2,1,2],[6,3],[4,2,1,2,1,2],[6,2,1,2],[5,3],[7,2,2,2]]},"legend":null}}},
 {"data":{"name":"pts"},"transform":[{"filter":"datum.c=='U'&&datum.r==4"}],"mark":{"type":"errorbar","ticks":{"size":6},"color":"#3a3a3a","clip":true},
  "encoding":{"x":{"field":"b","type":"quantitative","scale":{"domain":[-90,90],"nice":false,"zero":false},"axis":null},"y":{"field":"v","type":"quantitative","scale":{"domain":[-36,64],"nice":false,"zero":false},"axis":null},"yError":{"field":"e"}}},
 {"data":{"name":"pts"},"transform":[{"filter":"datum.c=='U'&&datum.r==4"}],"mark":{"type":"point","clip":true,"filled":false,"color":"#000","strokeWidth":1.3,"size":40,"opacity":1},
  "encoding":{"x":{"field":"b","type":"quantitative","scale":{"domain":[-90,90],"nice":false,"zero":false},"axis":{"orient":"top","values":[-90,-80,-70,-60,-50,-40,-30,-20,-10,0,10,20,30,40,50,60,70,80,90],"labels":false,"tickSize":{"condition":{"test":"datum.value % 50 == 0","value":-7},"value":-4},"title":null}},
   "y":{"field":"v","type":"quantitative","scale":{"domain":[-36,64],"nice":false,"zero":false},"axis":{"orient":"right","values":[-35,-30,-25,-20,-15,-10,-5,0,5,10,15,20,25,30,35,40,45,50,55,60],"labels":false,"tickSize":{"condition":{"test":"datum.value % 20 == 0","value":-7},"value":-4},"title":null}},
   "shape":{"datum":"\u2002120\u2002<\u2002l\u2002<\u2002180\u2002","type":"nominal","scale":{"range":["M-1,0H1M0,-1V1"]},"legend":{"orient":"none","legendX":371,"legendY":31,"title":null}}}}
],"resolve":{"axis":{"x":"independent","y":"independent"}}},
{"width":504,"height":93,"layer":[
 {"data":{"name":"mod"},"transform":[{"filter":"datum.c=='U'&&datum.r==5"}],"mark":{"type":"line","clip":true,"strokeWidth":1.3},
  "encoding":{"x":{"field":"b","type":"quantitative","scale":{"domain":[-90,90],"nice":false,"zero":false},"axis":{"orient":"bottom","values":[-90,-80,-70,-60,-50,-40,-30,-20,-10,0,10,20,30,40,50,60,70,80,90],"labels":false,"tickSize":{"condition":{"test":"datum.value % 50 == 0","value":-7},"value":-4},"title":null}},
   "y":{"field":"v","type":"quantitative","scale":{"domain":[-40,76],"nice":false,"zero":false},"axis":{"orient":"left","values":[-40,-35,-30,-25,-20,-15,-10,-5,0,5,10,15,20,25,30,35,40,45,50,55,60,65,70,75],"labelExpr":"datum.value % 20 == 0 ? format(datum.value,'d') : ''","tickSize":{"condition":{"test":"datum.value % 20 == 0","value":-7},"value":-4},"title":null}},
   "color":{"field":"m","type":"nominal","scale":{"domain":["k","c","g","lg","y","o","r"],"range":["#000000","#00e5ff","#00dd00","#99ff00","#eedd00","#ff9900","#ff1a00"]},"legend":null},
   "strokeDash":{"field":"m","type":"nominal","scale":{"domain":["k","c","g","lg","y","o","r"],"range":[[1,0],[6,2,1,2],[6,3],[4,2,1,2,1,2],[6,2,1,2],[5,3],[7,2,2,2]]},"legend":null}}},
 {"data":{"name":"pts"},"transform":[{"filter":"datum.c=='U'&&datum.r==5"}],"mark":{"type":"errorbar","ticks":{"size":6},"color":"#3a3a3a","clip":true},
  "encoding":{"x":{"field":"b","type":"quantitative","scale":{"domain":[-90,90],"nice":false,"zero":false},"axis":null},"y":{"field":"v","type":"quantitative","scale":{"domain":[-40,76],"nice":false,"zero":false},"axis":null},"yError":{"field":"e"}}},
 {"data":{"name":"pts"},"transform":[{"filter":"datum.c=='U'&&datum.r==5"}],"mark":{"type":"point","clip":true,"filled":false,"color":"#000","strokeWidth":1.3,"size":40,"opacity":1},
  "encoding":{"x":{"field":"b","type":"quantitative","scale":{"domain":[-90,90],"nice":false,"zero":false},"axis":{"orient":"top","values":[-90,-80,-70,-60,-50,-40,-30,-20,-10,0,10,20,30,40,50,60,70,80,90],"labels":false,"tickSize":{"condition":{"test":"datum.value % 50 == 0","value":-7},"value":-4},"title":null}},
   "y":{"field":"v","type":"quantitative","scale":{"domain":[-40,76],"nice":false,"zero":false},"axis":{"orient":"right","values":[-40,-35,-30,-25,-20,-15,-10,-5,0,5,10,15,20,25,30,35,40,45,50,55,60,65,70,75],"labels":false,"tickSize":{"condition":{"test":"datum.value % 20 == 0","value":-7},"value":-4},"title":null}},
   "shape":{"datum":"\u2002180\u2002<\u2002l\u2002<\u2002270\u2002","type":"nominal","scale":{"range":["M-1,0H1M0,-1V1"]},"legend":{"orient":"none","legendX":371,"legendY":14,"title":null}}}}
],"resolve":{"axis":{"x":"independent","y":"independent"}}},
{"width":504,"height":93,"layer":[
 {"data":{"name":"mod"},"transform":[{"filter":"datum.c=='U'&&datum.r==6"}],"mark":{"type":"line","clip":true,"strokeWidth":1.3},
  "encoding":{"x":{"field":"b","type":"quantitative","scale":{"domain":[-90,90],"nice":false,"zero":false},"axis":{"orient":"bottom","values":[-90,-80,-70,-60,-50,-40,-30,-20,-10,0,10,20,30,40,50,60,70,80,90],"labels":false,"tickSize":{"condition":{"test":"datum.value % 50 == 0","value":-7},"value":-4},"title":null}},
   "y":{"field":"v","type":"quantitative","scale":{"domain":[-118,18],"nice":false,"zero":false},"axis":{"orient":"left","values":[-115,-110,-105,-100,-95,-90,-85,-80,-75,-70,-65,-60,-55,-50,-45,-40,-35,-30,-25,-20,-15,-10,-5,0,5,10,15],"labelExpr":"datum.value % 20 == 0 ? format(datum.value,'d') : ''","tickSize":{"condition":{"test":"datum.value % 20 == 0","value":-7},"value":-4},"title":null}},
   "color":{"field":"m","type":"nominal","scale":{"domain":["k","c","g","lg","y","o","r"],"range":["#000000","#00e5ff","#00dd00","#99ff00","#eedd00","#ff9900","#ff1a00"]},"legend":null},
   "strokeDash":{"field":"m","type":"nominal","scale":{"domain":["k","c","g","lg","y","o","r"],"range":[[1,0],[6,2,1,2],[6,3],[4,2,1,2,1,2],[6,2,1,2],[5,3],[7,2,2,2]]},"legend":null}}},
 {"data":{"name":"pts"},"transform":[{"filter":"datum.c=='U'&&datum.r==6"}],"mark":{"type":"errorbar","ticks":{"size":6},"color":"#3a3a3a","clip":true},
  "encoding":{"x":{"field":"b","type":"quantitative","scale":{"domain":[-90,90],"nice":false,"zero":false},"axis":null},"y":{"field":"v","type":"quantitative","scale":{"domain":[-118,18],"nice":false,"zero":false},"axis":null},"yError":{"field":"e"}}},
 {"data":{"name":"pts"},"transform":[{"filter":"datum.c=='U'&&datum.r==6"}],"mark":{"type":"point","clip":true,"filled":false,"color":"#000","strokeWidth":1.3,"size":40,"opacity":1},
  "encoding":{"x":{"field":"b","type":"quantitative","scale":{"domain":[-90,90],"nice":false,"zero":false},"axis":{"orient":"top","values":[-90,-80,-70,-60,-50,-40,-30,-20,-10,0,10,20,30,40,50,60,70,80,90],"labels":false,"tickSize":{"condition":{"test":"datum.value % 50 == 0","value":-7},"value":-4},"title":null}},
   "y":{"field":"v","type":"quantitative","scale":{"domain":[-118,18],"nice":false,"zero":false},"axis":{"orient":"right","values":[-115,-110,-105,-100,-95,-90,-85,-80,-75,-70,-65,-60,-55,-50,-45,-40,-35,-30,-25,-20,-15,-10,-5,0,5,10,15],"labels":false,"tickSize":{"condition":{"test":"datum.value % 20 == 0","value":-7},"value":-4},"title":null}},
   "shape":{"datum":"\u2002270\u2002<\u2002l\u2002<\u2002330\u2002","type":"nominal","scale":{"range":["M-1,0H1M0,-1V1"]},"legend":{"orient":"none","legendX":371,"legendY":29,"title":null}}}}
],"resolve":{"axis":{"x":"independent","y":"independent"}}},
{"width":504,"height":93,"layer":[
 {"data":{"name":"mod"},"transform":[{"filter":"datum.c=='U'&&datum.r==7"}],"mark":{"type":"line","clip":true,"strokeWidth":1.3},
  "encoding":{"x":{"field":"b","type":"quantitative","scale":{"domain":[-90,90],"nice":false,"zero":false},"axis":{"orient":"bottom","values":[-90,-72,-54,-36,-18,0,18,36,54,72,90],"labelExpr":"format(datum.value,'d') + '.'","tickSize":-5,"labelPadding":6,"title":"b (deg)","titlePadding":3}},
   "y":{"field":"v","type":"quantitative","scale":{"domain":[-92,64],"nice":false,"zero":false},"axis":{"orient":"left","values":[-90,-85,-80,-75,-70,-65,-60,-55,-50,-45,-40,-35,-30,-25,-20,-15,-10,-5,0,5,10,15,20,25,30,35,40,45,50,55,60],"labelExpr":"datum.value % 20 == 0 ? format(datum.value,'d') : ''","tickSize":{"condition":{"test":"datum.value % 20 == 0","value":-7},"value":-4},"title":null}},
   "color":{"field":"m","type":"nominal","scale":{"domain":["k","c","g","lg","y","o","r"],"range":["#000000","#00e5ff","#00dd00","#99ff00","#eedd00","#ff9900","#ff1a00"]},"legend":null},
   "strokeDash":{"field":"m","type":"nominal","scale":{"domain":["k","c","g","lg","y","o","r"],"range":[[1,0],[6,2,1,2],[6,3],[4,2,1,2,1,2],[6,2,1,2],[5,3],[7,2,2,2]]},"legend":null}}},
 {"data":{"name":"pts"},"transform":[{"filter":"datum.c=='U'&&datum.r==7"}],"mark":{"type":"errorbar","ticks":{"size":6},"color":"#3a3a3a","clip":true},
  "encoding":{"x":{"field":"b","type":"quantitative","scale":{"domain":[-90,90],"nice":false,"zero":false},"axis":null},"y":{"field":"v","type":"quantitative","scale":{"domain":[-92,64],"nice":false,"zero":false},"axis":null},"yError":{"field":"e"}}},
 {"data":{"name":"pts"},"transform":[{"filter":"datum.c=='U'&&datum.r==7"}],"mark":{"type":"point","clip":true,"filled":false,"color":"#000","strokeWidth":1.3,"size":40,"opacity":1},
  "encoding":{"x":{"field":"b","type":"quantitative","scale":{"domain":[-90,90],"nice":false,"zero":false},"axis":{"orient":"top","values":[-90,-80,-70,-60,-50,-40,-30,-20,-10,0,10,20,30,40,50,60,70,80,90],"labels":false,"tickSize":{"condition":{"test":"datum.value % 50 == 0","value":-7},"value":-4},"title":null}},
   "y":{"field":"v","type":"quantitative","scale":{"domain":[-92,64],"nice":false,"zero":false},"axis":{"orient":"right","values":[-90,-85,-80,-75,-70,-65,-60,-55,-50,-45,-40,-35,-30,-25,-20,-15,-10,-5,0,5,10,15,20,25,30,35,40,45,50,55,60],"labels":false,"tickSize":{"condition":{"test":"datum.value % 20 == 0","value":-7},"value":-4},"title":null}},
   "shape":{"datum":"\u2002330\u2002<\u2002l\u2002<\u2002360\u2002","type":"nominal","scale":{"range":["M-1,0H1M0,-1V1"]},"legend":{"orient":"none","legendX":371,"legendY":14,"title":null}}}}
],"resolve":{"axis":{"x":"independent","y":"independent"}}}
]}
],
"spacing":30,
"resolve":{"scale":{"shape":"independent"},"legend":{"shape":"independent"}}
}
